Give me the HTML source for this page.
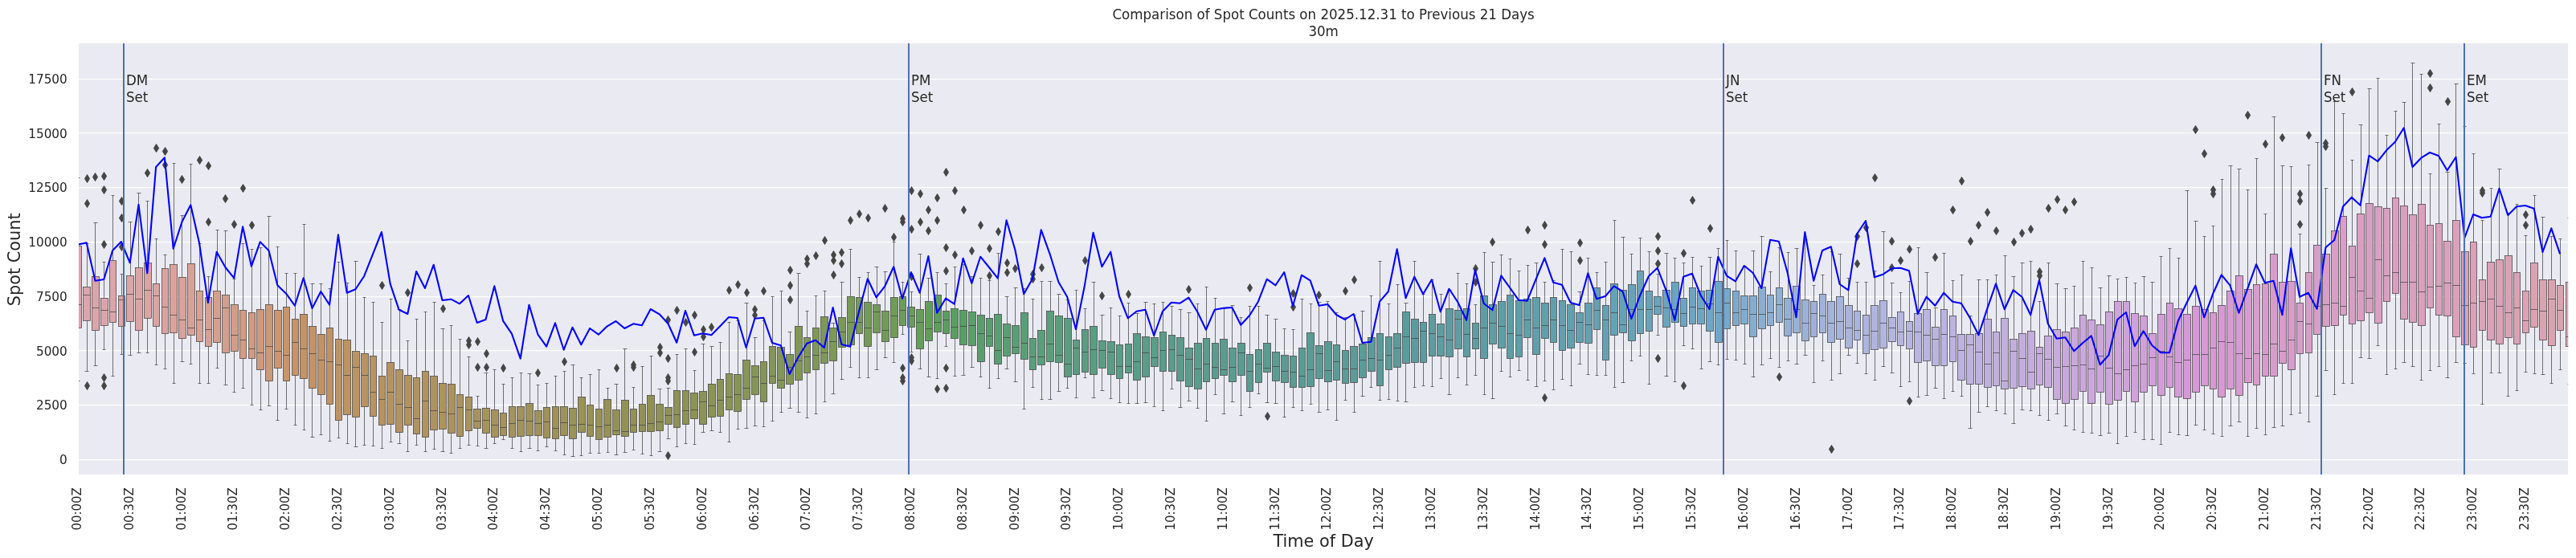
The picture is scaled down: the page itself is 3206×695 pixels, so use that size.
<!DOCTYPE html>
<html lang="en"><head><meta charset="utf-8"><title>Comparison of Spot Counts</title>
<style>html,body{margin:0;padding:0;background:#fff;overflow:hidden}svg{display:block;will-change:transform}text{font-family:"DejaVu Sans","Liberation Sans",sans-serif;fill:#262626}.t{font-size:15.28px}.x{font-size:14.95px}.b{stroke:#454545;stroke-width:0.75}.w{stroke:#454545;stroke-width:0.75;fill:none}.o{fill:#454545;stroke:#454545;stroke-width:1}</style></head><body>
<svg width="3206" height="695" viewBox="0 0 3206 695">
<rect width="3206" height="695" fill="#fff"/>
<rect x="98.0" y="54.0" width="3098.2" height="537.1" fill="#eaeaf2"/>
<defs><clipPath id="c"><rect x="98.0" y="54.0" width="3098.2" height="537.1"/></clipPath></defs>
<line x1="98.0" x2="3196.2" y1="572.5" y2="572.5" stroke="#fff" stroke-width="1.25"/>
<text class="t" transform="translate(83.8 578.2) scale(1 1.06)" text-anchor="end">0</text>
<line x1="98.0" x2="3196.2" y1="504.5" y2="504.5" stroke="#fff" stroke-width="1.25"/>
<text class="t" transform="translate(83.8 510.4) scale(1 1.06)" text-anchor="end">2500</text>
<line x1="98.0" x2="3196.2" y1="436.5" y2="436.5" stroke="#fff" stroke-width="1.25"/>
<text class="t" transform="translate(83.8 442.7) scale(1 1.06)" text-anchor="end">5000</text>
<line x1="98.0" x2="3196.2" y1="369.5" y2="369.5" stroke="#fff" stroke-width="1.25"/>
<text class="t" transform="translate(83.8 374.9) scale(1 1.06)" text-anchor="end">7500</text>
<line x1="98.0" x2="3196.2" y1="301.5" y2="301.5" stroke="#fff" stroke-width="1.25"/>
<text class="t" transform="translate(83.8 307.2) scale(1 1.06)" text-anchor="end">10000</text>
<line x1="98.0" x2="3196.2" y1="233.5" y2="233.5" stroke="#fff" stroke-width="1.25"/>
<text class="t" transform="translate(83.8 239.4) scale(1 1.06)" text-anchor="end">12500</text>
<line x1="98.0" x2="3196.2" y1="165.5" y2="165.5" stroke="#fff" stroke-width="1.25"/>
<text class="t" transform="translate(83.8 171.7) scale(1 1.06)" text-anchor="end">15000</text>
<line x1="98.0" x2="3196.2" y1="98.5" y2="98.5" stroke="#fff" stroke-width="1.25"/>
<text class="t" transform="translate(83.8 103.9) scale(1 1.06)" text-anchor="end">17500</text>
<g clip-path="url(#c)">
<rect class="b" x="93.5" y="306.5" width="8" height="102" fill="#dca4ad"/>
<rect class="b" x="103.5" y="357.5" width="9" height="42" fill="#dca4ac"/>
<rect class="b" x="114.5" y="344.5" width="9" height="67" fill="#dca4ab"/>
<rect class="b" x="125.5" y="371.5" width="9" height="34" fill="#dca4aa"/>
<rect class="b" x="136.5" y="324.5" width="8" height="77" fill="#dca5a8"/>
<rect class="b" x="147.5" y="368.5" width="8" height="38" fill="#dca5a7"/>
<rect class="b" x="157.5" y="343.5" width="9" height="57" fill="#dca5a6"/>
<rect class="b" x="168.5" y="333.5" width="9" height="78" fill="#dca5a5"/>
<rect class="b" x="179.5" y="327.5" width="9" height="69" fill="#dba4a3"/>
<rect class="b" x="190.5" y="353.5" width="8" height="53" fill="#dba4a1"/>
<rect class="b" x="201.5" y="334.5" width="8" height="81" fill="#daa39f"/>
<rect class="b" x="211.5" y="329.5" width="9" height="85" fill="#d9a39c"/>
<rect class="b" x="222.5" y="345.5" width="9" height="76" fill="#d9a29a"/>
<rect class="b" x="233.5" y="328.5" width="9" height="89" fill="#d8a197"/>
<rect class="b" x="244.5" y="362.5" width="8" height="63" fill="#d7a195"/>
<rect class="b" x="255.5" y="370.5" width="8" height="61" fill="#d6a092"/>
<rect class="b" x="265.5" y="362.5" width="9" height="64" fill="#d59f8f"/>
<rect class="b" x="276.5" y="367.5" width="9" height="72" fill="#d49e8c"/>
<rect class="b" x="287.5" y="379.5" width="9" height="58" fill="#d39d88"/>
<rect class="b" x="298.5" y="386.5" width="8" height="60" fill="#d29c85"/>
<rect class="b" x="309.5" y="389.5" width="8" height="57" fill="#d09b81"/>
<rect class="b" x="319.5" y="385.5" width="9" height="75" fill="#cf997c"/>
<rect class="b" x="330.5" y="379.5" width="9" height="95" fill="#cd9877"/>
<rect class="b" x="341.5" y="386.5" width="9" height="72" fill="#cb9671"/>
<rect class="b" x="352.5" y="382.5" width="8" height="92" fill="#c9946a"/>
<rect class="b" x="363.5" y="397.5" width="8" height="70" fill="#c79367"/>
<rect class="b" x="373.5" y="391.5" width="9" height="80" fill="#c59366"/>
<rect class="b" x="384.5" y="406.5" width="9" height="77" fill="#c39366"/>
<rect class="b" x="395.5" y="416.5" width="9" height="75" fill="#c19365"/>
<rect class="b" x="406.5" y="408.5" width="8" height="95" fill="#c09364"/>
<rect class="b" x="417.5" y="422.5" width="8" height="101" fill="#be9364"/>
<rect class="b" x="427.5" y="423.5" width="9" height="93" fill="#bd9363"/>
<rect class="b" x="438.5" y="437.5" width="9" height="82" fill="#bb9463"/>
<rect class="b" x="449.5" y="440.5" width="9" height="66" fill="#b99462"/>
<rect class="b" x="460.5" y="443.5" width="8" height="75" fill="#b89462"/>
<rect class="b" x="471.5" y="468.5" width="8" height="61" fill="#b79361"/>
<rect class="b" x="481.5" y="451.5" width="9" height="77" fill="#b59361"/>
<rect class="b" x="492.5" y="460.5" width="9" height="78" fill="#b49360"/>
<rect class="b" x="503.5" y="467.5" width="9" height="62" fill="#b29360"/>
<rect class="b" x="514.5" y="470.5" width="8" height="70" fill="#b1935f"/>
<rect class="b" x="525.5" y="462.5" width="8" height="82" fill="#b0935f"/>
<rect class="b" x="535.5" y="468.5" width="9" height="67" fill="#af935f"/>
<rect class="b" x="546.5" y="477.5" width="9" height="57" fill="#ad935e"/>
<rect class="b" x="557.5" y="478.5" width="9" height="61" fill="#ac935e"/>
<rect class="b" x="568.5" y="491.5" width="8" height="52" fill="#ab935d"/>
<rect class="b" x="579.5" y="494.5" width="8" height="42" fill="#aa935d"/>
<rect class="b" x="589.5" y="509.5" width="9" height="24" fill="#a8935c"/>
<rect class="b" x="600.5" y="508.5" width="9" height="31" fill="#a7935c"/>
<rect class="b" x="611.5" y="510.5" width="9" height="34" fill="#a6935c"/>
<rect class="b" x="622.5" y="514.5" width="8" height="28" fill="#a5935b"/>
<rect class="b" x="633.5" y="506.5" width="8" height="38" fill="#a4935b"/>
<rect class="b" x="643.5" y="506.5" width="9" height="37" fill="#a2925a"/>
<rect class="b" x="654.5" y="502.5" width="9" height="40" fill="#a1925a"/>
<rect class="b" x="665.5" y="511.5" width="9" height="31" fill="#a0925a"/>
<rect class="b" x="676.5" y="507.5" width="8" height="38" fill="#9f9259"/>
<rect class="b" x="687.5" y="506.5" width="8" height="40" fill="#9e9259"/>
<rect class="b" x="697.5" y="506.5" width="9" height="36" fill="#9d9258"/>
<rect class="b" x="708.5" y="508.5" width="9" height="38" fill="#9b9258"/>
<rect class="b" x="719.5" y="494.5" width="9" height="44" fill="#9a9258"/>
<rect class="b" x="730.5" y="504.5" width="8" height="39" fill="#999157"/>
<rect class="b" x="741.5" y="509.5" width="8" height="38" fill="#989157"/>
<rect class="b" x="751.5" y="497.5" width="9" height="47" fill="#979156"/>
<rect class="b" x="762.5" y="510.5" width="9" height="31" fill="#959156"/>
<rect class="b" x="773.5" y="498.5" width="9" height="45" fill="#949156"/>
<rect class="b" x="784.5" y="509.5" width="8" height="29" fill="#939155"/>
<rect class="b" x="795.5" y="503.5" width="8" height="34" fill="#929155"/>
<rect class="b" x="805.5" y="492.5" width="9" height="45" fill="#909054"/>
<rect class="b" x="816.5" y="503.5" width="9" height="33" fill="#909154"/>
<rect class="b" x="827.5" y="507.5" width="9" height="21" fill="#8f9155"/>
<rect class="b" x="838.5" y="486.5" width="8" height="46" fill="#8e9255"/>
<rect class="b" x="849.5" y="486.5" width="8" height="42" fill="#8d9255"/>
<rect class="b" x="859.5" y="489.5" width="9" height="32" fill="#8d9255"/>
<rect class="b" x="870.5" y="487.5" width="9" height="41" fill="#8c9355"/>
<rect class="b" x="881.5" y="478.5" width="9" height="41" fill="#8b9355"/>
<rect class="b" x="892.5" y="472.5" width="8" height="46" fill="#8a9355"/>
<rect class="b" x="903.5" y="465.5" width="8" height="45" fill="#899455"/>
<rect class="b" x="913.5" y="466.5" width="9" height="46" fill="#889456"/>
<rect class="b" x="924.5" y="448.5" width="9" height="49" fill="#879556"/>
<rect class="b" x="935.5" y="455.5" width="9" height="36" fill="#869556"/>
<rect class="b" x="946.5" y="450.5" width="8" height="50" fill="#859556"/>
<rect class="b" x="957.5" y="431.5" width="8" height="46" fill="#849656"/>
<rect class="b" x="967.5" y="432.5" width="9" height="51" fill="#839656"/>
<rect class="b" x="978.5" y="441.5" width="9" height="37" fill="#829756"/>
<rect class="b" x="989.5" y="406.5" width="9" height="67" fill="#819756"/>
<rect class="b" x="1000.5" y="420.5" width="8" height="44" fill="#809757"/>
<rect class="b" x="1011.5" y="408.5" width="8" height="52" fill="#7f9857"/>
<rect class="b" x="1021.5" y="394.5" width="9" height="58" fill="#7d9857"/>
<rect class="b" x="1032.5" y="408.5" width="9" height="41" fill="#7c9957"/>
<rect class="b" x="1043.5" y="395.5" width="9" height="37" fill="#7a9957"/>
<rect class="b" x="1054.5" y="369.5" width="9" height="60" fill="#799a57"/>
<rect class="b" x="1065.5" y="370.5" width="8" height="45" fill="#779a57"/>
<rect class="b" x="1075.5" y="376.5" width="9" height="55" fill="#759b58"/>
<rect class="b" x="1086.5" y="379.5" width="9" height="35" fill="#739b58"/>
<rect class="b" x="1097.5" y="387.5" width="9" height="38" fill="#719c58"/>
<rect class="b" x="1108.5" y="370.5" width="9" height="50" fill="#6f9c58"/>
<rect class="b" x="1119.5" y="369.5" width="8" height="36" fill="#6c9d58"/>
<rect class="b" x="1129.5" y="382.5" width="9" height="25" fill="#699d58"/>
<rect class="b" x="1140.5" y="385.5" width="9" height="49" fill="#659e59"/>
<rect class="b" x="1151.5" y="375.5" width="9" height="49" fill="#619e59"/>
<rect class="b" x="1162.5" y="367.5" width="9" height="46" fill="#5c9f59"/>
<rect class="b" x="1173.5" y="387.5" width="8" height="28" fill="#599f5c"/>
<rect class="b" x="1183.5" y="384.5" width="9" height="37" fill="#599f61"/>
<rect class="b" x="1194.5" y="386.5" width="9" height="43" fill="#599f65"/>
<rect class="b" x="1205.5" y="388.5" width="9" height="42" fill="#599f69"/>
<rect class="b" x="1216.5" y="392.5" width="9" height="58" fill="#599f6c"/>
<rect class="b" x="1227.5" y="396.5" width="8" height="35" fill="#599e6f"/>
<rect class="b" x="1237.5" y="391.5" width="9" height="62" fill="#5a9e71"/>
<rect class="b" x="1248.5" y="403.5" width="9" height="40" fill="#5a9e73"/>
<rect class="b" x="1259.5" y="405.5" width="9" height="35" fill="#5a9e75"/>
<rect class="b" x="1270.5" y="389.5" width="9" height="58" fill="#5a9e77"/>
<rect class="b" x="1281.5" y="421.5" width="8" height="39" fill="#5a9e79"/>
<rect class="b" x="1291.5" y="411.5" width="9" height="43" fill="#5a9e7b"/>
<rect class="b" x="1302.5" y="387.5" width="9" height="63" fill="#5a9e7c"/>
<rect class="b" x="1313.5" y="393.5" width="9" height="58" fill="#5a9d7d"/>
<rect class="b" x="1324.5" y="396.5" width="9" height="73" fill="#5a9d7f"/>
<rect class="b" x="1335.5" y="423.5" width="8" height="43" fill="#5a9d80"/>
<rect class="b" x="1346.5" y="410.5" width="8" height="53" fill="#5a9d81"/>
<rect class="b" x="1356.5" y="406.5" width="9" height="60" fill="#5a9d82"/>
<rect class="b" x="1367.5" y="424.5" width="9" height="34" fill="#5a9d83"/>
<rect class="b" x="1378.5" y="425.5" width="9" height="41" fill="#5a9d84"/>
<rect class="b" x="1389.5" y="429.5" width="8" height="42" fill="#5a9d85"/>
<rect class="b" x="1400.5" y="428.5" width="8" height="36" fill="#5a9d86"/>
<rect class="b" x="1410.5" y="415.5" width="9" height="58" fill="#5a9d87"/>
<rect class="b" x="1421.5" y="419.5" width="9" height="50" fill="#5a9d88"/>
<rect class="b" x="1432.5" y="420.5" width="9" height="36" fill="#5a9d89"/>
<rect class="b" x="1443.5" y="413.5" width="8" height="49" fill="#5a9c8a"/>
<rect class="b" x="1454.5" y="417.5" width="8" height="45" fill="#5a9c8b"/>
<rect class="b" x="1464.5" y="420.5" width="9" height="54" fill="#5a9c8b"/>
<rect class="b" x="1475.5" y="433.5" width="9" height="48" fill="#5b9c8c"/>
<rect class="b" x="1486.5" y="427.5" width="9" height="57" fill="#5b9c8d"/>
<rect class="b" x="1497.5" y="421.5" width="8" height="54" fill="#5b9c8e"/>
<rect class="b" x="1508.5" y="427.5" width="8" height="44" fill="#5b9c8e"/>
<rect class="b" x="1518.5" y="422.5" width="9" height="45" fill="#5b9c8f"/>
<rect class="b" x="1529.5" y="433.5" width="9" height="42" fill="#5b9c90"/>
<rect class="b" x="1540.5" y="427.5" width="9" height="40" fill="#5b9c90"/>
<rect class="b" x="1551.5" y="441.5" width="8" height="46" fill="#5b9c91"/>
<rect class="b" x="1562.5" y="435.5" width="8" height="41" fill="#5b9c92"/>
<rect class="b" x="1572.5" y="427.5" width="9" height="36" fill="#5b9c92"/>
<rect class="b" x="1583.5" y="438.5" width="9" height="36" fill="#5b9c93"/>
<rect class="b" x="1594.5" y="442.5" width="9" height="34" fill="#5b9b94"/>
<rect class="b" x="1605.5" y="443.5" width="8" height="39" fill="#5b9b94"/>
<rect class="b" x="1616.5" y="433.5" width="8" height="49" fill="#5b9b95"/>
<rect class="b" x="1626.5" y="414.5" width="9" height="67" fill="#5b9b95"/>
<rect class="b" x="1637.5" y="430.5" width="9" height="41" fill="#5b9b96"/>
<rect class="b" x="1648.5" y="425.5" width="9" height="50" fill="#5b9b96"/>
<rect class="b" x="1659.5" y="429.5" width="8" height="44" fill="#5b9b97"/>
<rect class="b" x="1670.5" y="436.5" width="8" height="41" fill="#5b9b98"/>
<rect class="b" x="1680.5" y="431.5" width="9" height="45" fill="#5b9b98"/>
<rect class="b" x="1691.5" y="428.5" width="9" height="42" fill="#5b9b99"/>
<rect class="b" x="1702.5" y="420.5" width="9" height="42" fill="#5b9b99"/>
<rect class="b" x="1713.5" y="415.5" width="8" height="65" fill="#5b9b9a"/>
<rect class="b" x="1724.5" y="419.5" width="8" height="41" fill="#5b9b9a"/>
<rect class="b" x="1734.5" y="415.5" width="9" height="42" fill="#5b9b9b"/>
<rect class="b" x="1745.5" y="388.5" width="9" height="64" fill="#5c9b9c"/>
<rect class="b" x="1756.5" y="397.5" width="9" height="54" fill="#5c9b9d"/>
<rect class="b" x="1767.5" y="401.5" width="8" height="50" fill="#5c9c9e"/>
<rect class="b" x="1778.5" y="391.5" width="8" height="52" fill="#5d9c9f"/>
<rect class="b" x="1788.5" y="403.5" width="9" height="40" fill="#5d9ca0"/>
<rect class="b" x="1799.5" y="384.5" width="9" height="60" fill="#5e9ca1"/>
<rect class="b" x="1810.5" y="386.5" width="9" height="48" fill="#5e9da2"/>
<rect class="b" x="1821.5" y="384.5" width="8" height="60" fill="#5e9da2"/>
<rect class="b" x="1832.5" y="402.5" width="8" height="32" fill="#5f9da3"/>
<rect class="b" x="1842.5" y="368.5" width="9" height="78" fill="#5f9da4"/>
<rect class="b" x="1853.5" y="379.5" width="9" height="49" fill="#5f9ea5"/>
<rect class="b" x="1864.5" y="375.5" width="9" height="58" fill="#609ea6"/>
<rect class="b" x="1875.5" y="367.5" width="8" height="79" fill="#609ea7"/>
<rect class="b" x="1886.5" y="374.5" width="8" height="70" fill="#619ea8"/>
<rect class="b" x="1896.5" y="372.5" width="9" height="48" fill="#619fa9"/>
<rect class="b" x="1907.5" y="370.5" width="9" height="71" fill="#619faa"/>
<rect class="b" x="1918.5" y="377.5" width="9" height="44" fill="#629fab"/>
<rect class="b" x="1929.5" y="370.5" width="8" height="56" fill="#629fac"/>
<rect class="b" x="1940.5" y="374.5" width="8" height="62" fill="#63a0ad"/>
<rect class="b" x="1950.5" y="379.5" width="9" height="54" fill="#63a0af"/>
<rect class="b" x="1961.5" y="389.5" width="9" height="37" fill="#64a0b0"/>
<rect class="b" x="1972.5" y="377.5" width="9" height="50" fill="#64a1b1"/>
<rect class="b" x="1983.5" y="358.5" width="8" height="52" fill="#65a1b2"/>
<rect class="b" x="1994.5" y="380.5" width="8" height="68" fill="#65a1b3"/>
<rect class="b" x="2004.5" y="353.5" width="9" height="64" fill="#66a2b5"/>
<rect class="b" x="2015.5" y="361.5" width="9" height="53" fill="#66a2b6"/>
<rect class="b" x="2026.5" y="354.5" width="9" height="70" fill="#67a2b7"/>
<rect class="b" x="2037.5" y="337.5" width="8" height="78" fill="#67a3b9"/>
<rect class="b" x="2048.5" y="362.5" width="8" height="50" fill="#68a3ba"/>
<rect class="b" x="2058.5" y="369.5" width="9" height="22" fill="#68a4bc"/>
<rect class="b" x="2069.5" y="361.5" width="9" height="46" fill="#69a4bd"/>
<rect class="b" x="2080.5" y="351.5" width="9" height="50" fill="#6aa4bf"/>
<rect class="b" x="2091.5" y="371.5" width="8" height="35" fill="#6ba5c1"/>
<rect class="b" x="2102.5" y="358.5" width="8" height="45" fill="#6ba5c3"/>
<rect class="b" x="2112.5" y="362.5" width="9" height="41" fill="#6ca6c5"/>
<rect class="b" x="2123.5" y="361.5" width="9" height="51" fill="#6da6c7"/>
<rect class="b" x="2134.5" y="350.5" width="9" height="76" fill="#6ea7c9"/>
<rect class="b" x="2145.5" y="359.5" width="8" height="50" fill="#75a9cb"/>
<rect class="b" x="2156.5" y="362.5" width="8" height="43" fill="#7baacd"/>
<rect class="b" x="2166.5" y="368.5" width="9" height="35" fill="#80accf"/>
<rect class="b" x="2177.5" y="368.5" width="9" height="51" fill="#85add0"/>
<rect class="b" x="2188.5" y="357.5" width="9" height="52" fill="#89aed2"/>
<rect class="b" x="2199.5" y="367.5" width="8" height="38" fill="#8dafd3"/>
<rect class="b" x="2210.5" y="358.5" width="8" height="43" fill="#91b0d4"/>
<rect class="b" x="2220.5" y="371.5" width="9" height="47" fill="#94b0d5"/>
<rect class="b" x="2231.5" y="356.5" width="9" height="58" fill="#98b1d7"/>
<rect class="b" x="2242.5" y="373.5" width="9" height="51" fill="#9bb2d8"/>
<rect class="b" x="2253.5" y="375.5" width="8" height="44" fill="#9eb2d9"/>
<rect class="b" x="2264.5" y="366.5" width="8" height="48" fill="#a0b3d9"/>
<rect class="b" x="2274.5" y="375.5" width="9" height="51" fill="#a3b3da"/>
<rect class="b" x="2285.5" y="369.5" width="9" height="53" fill="#a6b4db"/>
<rect class="b" x="2296.5" y="380.5" width="9" height="53" fill="#a8b4dc"/>
<rect class="b" x="2307.5" y="387.5" width="8" height="36" fill="#aab5dd"/>
<rect class="b" x="2318.5" y="392.5" width="8" height="48" fill="#adb5de"/>
<rect class="b" x="2328.5" y="380.5" width="9" height="55" fill="#afb5de"/>
<rect class="b" x="2339.5" y="374.5" width="9" height="59" fill="#b1b6df"/>
<rect class="b" x="2350.5" y="395.5" width="9" height="30" fill="#b3b6e0"/>
<rect class="b" x="2361.5" y="388.5" width="8" height="42" fill="#b5b6e0"/>
<rect class="b" x="2372.5" y="400.5" width="8" height="34" fill="#b7b6e1"/>
<rect class="b" x="2382.5" y="390.5" width="9" height="61" fill="#b8b5e0"/>
<rect class="b" x="2393.5" y="385.5" width="9" height="64" fill="#b9b5e0"/>
<rect class="b" x="2404.5" y="407.5" width="9" height="48" fill="#bab4e0"/>
<rect class="b" x="2415.5" y="385.5" width="8" height="70" fill="#bbb3e0"/>
<rect class="b" x="2426.5" y="393.5" width="8" height="57" fill="#bcb3e0"/>
<rect class="b" x="2436.5" y="416.5" width="9" height="57" fill="#bdb2df"/>
<rect class="b" x="2447.5" y="416.5" width="9" height="62" fill="#beb2df"/>
<rect class="b" x="2458.5" y="415.5" width="9" height="63" fill="#bfb1df"/>
<rect class="b" x="2469.5" y="397.5" width="9" height="85" fill="#c0b0df"/>
<rect class="b" x="2480.5" y="413.5" width="8" height="67" fill="#c1afde"/>
<rect class="b" x="2490.5" y="396.5" width="9" height="88" fill="#c2afde"/>
<rect class="b" x="2501.5" y="422.5" width="9" height="61" fill="#c3aede"/>
<rect class="b" x="2512.5" y="415.5" width="9" height="66" fill="#c4adde"/>
<rect class="b" x="2523.5" y="412.5" width="9" height="72" fill="#c5addd"/>
<rect class="b" x="2534.5" y="432.5" width="8" height="47" fill="#c6acdd"/>
<rect class="b" x="2544.5" y="418.5" width="9" height="64" fill="#c7abdd"/>
<rect class="b" x="2555.5" y="410.5" width="9" height="87" fill="#c8aadd"/>
<rect class="b" x="2566.5" y="413.5" width="9" height="89" fill="#c9a9dc"/>
<rect class="b" x="2577.5" y="408.5" width="9" height="89" fill="#caa8dc"/>
<rect class="b" x="2588.5" y="392.5" width="8" height="95" fill="#cba8dc"/>
<rect class="b" x="2598.5" y="398.5" width="9" height="104" fill="#cca7db"/>
<rect class="b" x="2609.5" y="404.5" width="9" height="84" fill="#cca6db"/>
<rect class="b" x="2620.5" y="388.5" width="9" height="115" fill="#cda5db"/>
<rect class="b" x="2631.5" y="375.5" width="9" height="123" fill="#cea4da"/>
<rect class="b" x="2642.5" y="375.5" width="8" height="112" fill="#cfa3da"/>
<rect class="b" x="2652.5" y="390.5" width="9" height="110" fill="#d0a1da"/>
<rect class="b" x="2663.5" y="393.5" width="9" height="95" fill="#d1a0d9"/>
<rect class="b" x="2674.5" y="415.5" width="9" height="65" fill="#d29fd9"/>
<rect class="b" x="2685.5" y="391.5" width="9" height="101" fill="#d39ed8"/>
<rect class="b" x="2696.5" y="377.5" width="8" height="105" fill="#d49cd8"/>
<rect class="b" x="2706.5" y="384.5" width="9" height="110" fill="#d59bd8"/>
<rect class="b" x="2717.5" y="391.5" width="9" height="105" fill="#d699d7"/>
<rect class="b" x="2728.5" y="381.5" width="9" height="107" fill="#d698d6"/>
<rect class="b" x="2739.5" y="385.5" width="9" height="95" fill="#d798d5"/>
<rect class="b" x="2750.5" y="389.5" width="8" height="95" fill="#d799d4"/>
<rect class="b" x="2760.5" y="380.5" width="9" height="114" fill="#d799d3"/>
<rect class="b" x="2771.5" y="362.5" width="9" height="122" fill="#d79ad2"/>
<rect class="b" x="2782.5" y="343.5" width="9" height="149" fill="#d79ad1"/>
<rect class="b" x="2793.5" y="360.5" width="9" height="116" fill="#d89bd0"/>
<rect class="b" x="2804.5" y="354.5" width="8" height="125" fill="#d89bce"/>
<rect class="b" x="2815.5" y="353.5" width="8" height="115" fill="#d89bcd"/>
<rect class="b" x="2825.5" y="316.5" width="9" height="152" fill="#d89ccc"/>
<rect class="b" x="2836.5" y="351.5" width="9" height="101" fill="#d89ccb"/>
<rect class="b" x="2847.5" y="350.5" width="9" height="110" fill="#d89ccb"/>
<rect class="b" x="2858.5" y="377.5" width="8" height="63" fill="#d99dca"/>
<rect class="b" x="2869.5" y="339.5" width="8" height="100" fill="#d99dc9"/>
<rect class="b" x="2879.5" y="305.5" width="9" height="111" fill="#d99dc8"/>
<rect class="b" x="2890.5" y="316.5" width="9" height="90" fill="#d99dc7"/>
<rect class="b" x="2901.5" y="287.5" width="9" height="118" fill="#d99ec6"/>
<rect class="b" x="2912.5" y="269.5" width="8" height="123" fill="#d99ec5"/>
<rect class="b" x="2923.5" y="306.5" width="8" height="97" fill="#d99ec4"/>
<rect class="b" x="2933.5" y="266.5" width="9" height="133" fill="#d99fc3"/>
<rect class="b" x="2944.5" y="253.5" width="9" height="136" fill="#d99fc2"/>
<rect class="b" x="2955.5" y="257.5" width="9" height="145" fill="#da9fc2"/>
<rect class="b" x="2966.5" y="259.5" width="8" height="116" fill="#da9fc1"/>
<rect class="b" x="2977.5" y="246.5" width="8" height="119" fill="#da9fc0"/>
<rect class="b" x="2987.5" y="256.5" width="9" height="141" fill="#daa0bf"/>
<rect class="b" x="2998.5" y="267.5" width="9" height="134" fill="#daa0be"/>
<rect class="b" x="3009.5" y="254.5" width="9" height="151" fill="#daa0bd"/>
<rect class="b" x="3020.5" y="280.5" width="8" height="103" fill="#daa0bd"/>
<rect class="b" x="3031.5" y="278.5" width="8" height="114" fill="#daa1bc"/>
<rect class="b" x="3041.5" y="300.5" width="9" height="93" fill="#daa1bb"/>
<rect class="b" x="3052.5" y="274.5" width="9" height="145" fill="#daa1ba"/>
<rect class="b" x="3063.5" y="313.5" width="9" height="116" fill="#daa1b9"/>
<rect class="b" x="3074.5" y="301.5" width="8" height="131" fill="#dba1b8"/>
<rect class="b" x="3085.5" y="348.5" width="8" height="63" fill="#dba2b8"/>
<rect class="b" x="3095.5" y="326.5" width="9" height="97" fill="#dba2b7"/>
<rect class="b" x="3106.5" y="323.5" width="9" height="105" fill="#dba2b6"/>
<rect class="b" x="3117.5" y="318.5" width="9" height="102" fill="#dba2b5"/>
<rect class="b" x="3128.5" y="339.5" width="8" height="89" fill="#dba2b4"/>
<rect class="b" x="3139.5" y="362.5" width="8" height="52" fill="#dba3b3"/>
<rect class="b" x="3149.5" y="327.5" width="9" height="80" fill="#dba3b2"/>
<rect class="b" x="3160.5" y="348.5" width="9" height="75" fill="#dba3b1"/>
<rect class="b" x="3171.5" y="348.5" width="9" height="82" fill="#dba3b0"/>
<rect class="b" x="3182.5" y="355.5" width="8" height="56" fill="#dba3af"/>
<rect class="b" x="3193.5" y="351.5" width="8" height="80" fill="#dca4ae"/>
<path class="w" d="M97.5 306.5V221.5M97.5 408.5V474.5M95.5 221.5H99.5M95.5 474.5H99.5M93.5 379.5H101.5"/>
<path class="w" d="M108.5 357.5V303.5M108.5 399.5V462.5M105.5 303.5H110.5M105.5 462.5H110.5M103.5 367.5H112.5"/>
<path class="w" d="M118.5 344.5V277.5M118.5 411.5V455.5M116.5 277.5H121.5M116.5 455.5H121.5M114.5 383.5H123.5"/>
<path class="w" d="M129.5 371.5V326.5M129.5 405.5V435.5M127.5 326.5H131.5M127.5 435.5H131.5M125.5 386.5H134.5"/>
<path class="w" d="M140.5 324.5V243.5M140.5 401.5V468.5M138.5 243.5H142.5M138.5 468.5H142.5M136.5 388.5H144.5"/>
<path class="w" d="M151.5 368.5V341.5M151.5 406.5V441.5M149.5 341.5H153.5M149.5 441.5H153.5M147.5 373.5H155.5"/>
<path class="w" d="M162.5 343.5V276.5M162.5 400.5V442.5M159.5 276.5H164.5M159.5 442.5H164.5M157.5 366.5H166.5"/>
<path class="w" d="M172.5 333.5V240.5M172.5 411.5V439.5M170.5 240.5H175.5M170.5 439.5H175.5M168.5 372.5H177.5"/>
<path class="w" d="M183.5 327.5V250.5M183.5 396.5V439.5M181.5 250.5H185.5M181.5 439.5H185.5M179.5 361.5H188.5"/>
<path class="w" d="M194.5 353.5V297.5M194.5 406.5V454.5M192.5 297.5H196.5M192.5 454.5H196.5M190.5 368.5H198.5"/>
<path class="w" d="M205.5 334.5V317.5M205.5 415.5V459.5M203.5 317.5H207.5M203.5 459.5H207.5M201.5 382.5H209.5"/>
<path class="w" d="M216.5 329.5V203.5M216.5 414.5V477.5M214.5 203.5H218.5M214.5 477.5H218.5M211.5 392.5H220.5"/>
<path class="w" d="M226.5 345.5V268.5M226.5 421.5V450.5M224.5 268.5H229.5M224.5 450.5H229.5M222.5 398.5H231.5"/>
<path class="w" d="M237.5 328.5V204.5M237.5 417.5V453.5M235.5 204.5H239.5M235.5 453.5H239.5M233.5 408.5H242.5"/>
<path class="w" d="M248.5 362.5V303.5M248.5 425.5V477.5M246.5 303.5H250.5M246.5 477.5H250.5M244.5 398.5H252.5"/>
<path class="w" d="M259.5 370.5V344.5M259.5 431.5V477.5M257.5 344.5H261.5M257.5 477.5H261.5M255.5 410.5H263.5"/>
<path class="w" d="M270.5 362.5V286.5M270.5 426.5V458.5M268.5 286.5H272.5M268.5 458.5H272.5M265.5 396.5H274.5"/>
<path class="w" d="M280.5 367.5V287.5M280.5 439.5V479.5M278.5 287.5H283.5M278.5 479.5H283.5M276.5 383.5H285.5"/>
<path class="w" d="M291.5 379.5V347.5M291.5 437.5V488.5M289.5 347.5H293.5M289.5 488.5H293.5M287.5 417.5H296.5"/>
<path class="w" d="M302.5 386.5V303.5M302.5 446.5V483.5M300.5 303.5H304.5M300.5 483.5H304.5M298.5 423.5H306.5"/>
<path class="w" d="M313.5 389.5V310.5M313.5 446.5V504.5M311.5 310.5H315.5M311.5 504.5H315.5M309.5 434.5H317.5"/>
<path class="w" d="M324.5 385.5V308.5M324.5 460.5V510.5M322.5 308.5H326.5M322.5 510.5H326.5M319.5 439.5H328.5"/>
<path class="w" d="M334.5 379.5V269.5M334.5 474.5V505.5M332.5 269.5H337.5M332.5 505.5H337.5M330.5 431.5H339.5"/>
<path class="w" d="M345.5 386.5V307.5M345.5 458.5V523.5M343.5 307.5H347.5M343.5 523.5H347.5M341.5 437.5H350.5"/>
<path class="w" d="M356.5 382.5V340.5M356.5 474.5V509.5M354.5 340.5H358.5M354.5 509.5H358.5M352.5 442.5H360.5"/>
<path class="w" d="M367.5 397.5V340.5M367.5 467.5V529.5M365.5 340.5H369.5M365.5 529.5H369.5M363.5 426.5H371.5"/>
<path class="w" d="M378.5 391.5V279.5M378.5 471.5V535.5M376.5 279.5H380.5M376.5 535.5H380.5M373.5 434.5H382.5"/>
<path class="w" d="M388.5 406.5V353.5M388.5 483.5V544.5M386.5 353.5H391.5M386.5 544.5H391.5M384.5 440.5H393.5"/>
<path class="w" d="M399.5 416.5V353.5M399.5 491.5V541.5M397.5 353.5H401.5M397.5 541.5H401.5M395.5 448.5H404.5"/>
<path class="w" d="M410.5 408.5V359.5M410.5 503.5V549.5M408.5 359.5H412.5M408.5 549.5H412.5M406.5 450.5H414.5"/>
<path class="w" d="M421.5 422.5V326.5M421.5 523.5V545.5M419.5 326.5H423.5M419.5 545.5H423.5M417.5 454.5H425.5"/>
<path class="w" d="M432.5 423.5V352.5M432.5 516.5V552.5M430.5 352.5H434.5M430.5 552.5H434.5M427.5 467.5H436.5"/>
<path class="w" d="M442.5 437.5V325.5M442.5 519.5V556.5M440.5 325.5H445.5M440.5 556.5H445.5M438.5 457.5H447.5"/>
<path class="w" d="M453.5 440.5V370.5M453.5 506.5V554.5M451.5 370.5H455.5M451.5 554.5H455.5M449.5 467.5H458.5"/>
<path class="w" d="M464.5 443.5V376.5M464.5 518.5V555.5M462.5 376.5H466.5M462.5 555.5H466.5M460.5 488.5H468.5"/>
<path class="w" d="M475.5 468.5V401.5M475.5 529.5V558.5M473.5 401.5H477.5M473.5 558.5H477.5M471.5 497.5H479.5"/>
<path class="w" d="M486.5 451.5V372.5M486.5 528.5V550.5M484.5 372.5H488.5M484.5 550.5H488.5M481.5 488.5H490.5"/>
<path class="w" d="M497.5 460.5V385.5M497.5 538.5V552.5M494.5 385.5H499.5M494.5 552.5H499.5M492.5 503.5H501.5"/>
<path class="w" d="M507.5 467.5V424.5M507.5 529.5V562.5M505.5 424.5H509.5M505.5 562.5H509.5M503.5 507.5H512.5"/>
<path class="w" d="M518.5 470.5V397.5M518.5 540.5V554.5M516.5 397.5H520.5M516.5 554.5H520.5M514.5 521.5H522.5"/>
<path class="w" d="M529.5 462.5V388.5M529.5 544.5V562.5M527.5 388.5H531.5M527.5 562.5H531.5M525.5 499.5H533.5"/>
<path class="w" d="M540.5 468.5V376.5M540.5 535.5V559.5M538.5 376.5H542.5M538.5 559.5H542.5M535.5 511.5H544.5"/>
<path class="w" d="M551.5 477.5V409.5M551.5 534.5V562.5M548.5 409.5H553.5M548.5 562.5H553.5M546.5 513.5H555.5"/>
<path class="w" d="M561.5 478.5V405.5M561.5 539.5V564.5M559.5 405.5H563.5M559.5 564.5H563.5M557.5 515.5H566.5"/>
<path class="w" d="M572.5 491.5V422.5M572.5 543.5V558.5M570.5 422.5H574.5M570.5 558.5H574.5M568.5 507.5H576.5"/>
<path class="w" d="M583.5 494.5V444.5M583.5 536.5V554.5M581.5 444.5H585.5M581.5 554.5H585.5M579.5 510.5H587.5"/>
<path class="w" d="M594.5 509.5V493.5M594.5 533.5V555.5M592.5 493.5H596.5M592.5 555.5H596.5M589.5 524.5H598.5"/>
<path class="w" d="M605.5 508.5V464.5M605.5 539.5V558.5M602.5 464.5H607.5M602.5 558.5H607.5M600.5 523.5H609.5"/>
<path class="w" d="M615.5 510.5V460.5M615.5 544.5V552.5M613.5 460.5H617.5M613.5 552.5H617.5M611.5 529.5H620.5"/>
<path class="w" d="M626.5 514.5V478.5M626.5 542.5V547.5M624.5 478.5H628.5M624.5 547.5H628.5M622.5 532.5H630.5"/>
<path class="w" d="M637.5 506.5V470.5M637.5 544.5V558.5M635.5 470.5H639.5M635.5 558.5H639.5M633.5 527.5H641.5"/>
<path class="w" d="M648.5 506.5V464.5M648.5 543.5V562.5M646.5 464.5H650.5M646.5 562.5H650.5M643.5 523.5H652.5"/>
<path class="w" d="M659.5 502.5V465.5M659.5 542.5V558.5M656.5 465.5H661.5M656.5 558.5H661.5M654.5 524.5H663.5"/>
<path class="w" d="M669.5 511.5V479.5M669.5 542.5V561.5M667.5 479.5H671.5M667.5 561.5H671.5M665.5 527.5H674.5"/>
<path class="w" d="M680.5 507.5V477.5M680.5 545.5V556.5M678.5 477.5H682.5M678.5 556.5H682.5M676.5 525.5H684.5"/>
<path class="w" d="M691.5 506.5V468.5M691.5 546.5V561.5M689.5 468.5H693.5M689.5 561.5H693.5M687.5 533.5H695.5"/>
<path class="w" d="M702.5 506.5V462.5M702.5 542.5V566.5M700.5 462.5H704.5M700.5 566.5H704.5M697.5 526.5H706.5"/>
<path class="w" d="M713.5 508.5V454.5M713.5 546.5V568.5M710.5 454.5H715.5M710.5 568.5H715.5M708.5 529.5H717.5"/>
<path class="w" d="M723.5 494.5V470.5M723.5 538.5V567.5M721.5 470.5H725.5M721.5 567.5H725.5M719.5 528.5H728.5"/>
<path class="w" d="M734.5 504.5V466.5M734.5 543.5V564.5M732.5 466.5H736.5M732.5 564.5H736.5M730.5 529.5H738.5"/>
<path class="w" d="M745.5 509.5V460.5M745.5 547.5V564.5M743.5 460.5H747.5M743.5 564.5H747.5M741.5 531.5H749.5"/>
<path class="w" d="M756.5 497.5V483.5M756.5 544.5V563.5M754.5 483.5H758.5M754.5 563.5H758.5M751.5 529.5H760.5"/>
<path class="w" d="M767.5 510.5V478.5M767.5 541.5V566.5M764.5 478.5H769.5M764.5 566.5H769.5M762.5 536.5H771.5"/>
<path class="w" d="M777.5 498.5V434.5M777.5 543.5V563.5M775.5 434.5H780.5M775.5 563.5H780.5M773.5 537.5H782.5"/>
<path class="w" d="M788.5 509.5V482.5M788.5 538.5V560.5M786.5 482.5H790.5M786.5 560.5H790.5M784.5 529.5H792.5"/>
<path class="w" d="M799.5 503.5V456.5M799.5 537.5V565.5M797.5 456.5H801.5M797.5 565.5H801.5M795.5 529.5H803.5"/>
<path class="w" d="M810.5 492.5V443.5M810.5 537.5V567.5M808.5 443.5H812.5M808.5 567.5H812.5M805.5 527.5H814.5"/>
<path class="w" d="M821.5 503.5V484.5M821.5 536.5V562.5M818.5 484.5H823.5M818.5 562.5H823.5M816.5 525.5H825.5"/>
<path class="w" d="M831.5 507.5V483.5M831.5 528.5V546.5M829.5 483.5H834.5M829.5 546.5H834.5M827.5 517.5H836.5"/>
<path class="w" d="M842.5 486.5V441.5M842.5 532.5V556.5M840.5 441.5H844.5M840.5 556.5H844.5M838.5 516.5H846.5"/>
<path class="w" d="M853.5 486.5V434.5M853.5 528.5V552.5M851.5 434.5H855.5M851.5 552.5H855.5M849.5 511.5H857.5"/>
<path class="w" d="M864.5 489.5V461.5M864.5 521.5V553.5M862.5 461.5H866.5M862.5 553.5H866.5M859.5 510.5H868.5"/>
<path class="w" d="M875.5 487.5V428.5M875.5 528.5V538.5M872.5 428.5H877.5M872.5 538.5H877.5M870.5 500.5H879.5"/>
<path class="w" d="M885.5 478.5V431.5M885.5 519.5V536.5M883.5 431.5H888.5M883.5 536.5H888.5M881.5 505.5H890.5"/>
<path class="w" d="M896.5 472.5V426.5M896.5 518.5V538.5M894.5 426.5H898.5M894.5 538.5H898.5M892.5 498.5H900.5"/>
<path class="w" d="M907.5 465.5V401.5M907.5 510.5V550.5M905.5 401.5H909.5M905.5 550.5H909.5M903.5 494.5H911.5"/>
<path class="w" d="M918.5 466.5V399.5M918.5 512.5V534.5M916.5 399.5H920.5M916.5 534.5H920.5M913.5 491.5H922.5"/>
<path class="w" d="M929.5 448.5V377.5M929.5 497.5V533.5M926.5 377.5H931.5M926.5 533.5H931.5M924.5 483.5H933.5"/>
<path class="w" d="M939.5 455.5V420.5M939.5 491.5V530.5M937.5 420.5H942.5M937.5 530.5H942.5M935.5 469.5H944.5"/>
<path class="w" d="M950.5 450.5V399.5M950.5 500.5V531.5M948.5 399.5H952.5M948.5 531.5H952.5M946.5 477.5H954.5"/>
<path class="w" d="M961.5 431.5V369.5M961.5 477.5V524.5M959.5 369.5H963.5M959.5 524.5H963.5M957.5 468.5H965.5"/>
<path class="w" d="M972.5 432.5V362.5M972.5 483.5V513.5M970.5 362.5H974.5M970.5 513.5H974.5M967.5 473.5H976.5"/>
<path class="w" d="M983.5 441.5V413.5M983.5 478.5V508.5M980.5 413.5H985.5M980.5 508.5H985.5M978.5 457.5H987.5"/>
<path class="w" d="M993.5 406.5V340.5M993.5 473.5V513.5M991.5 340.5H996.5M991.5 513.5H996.5M989.5 449.5H998.5"/>
<path class="w" d="M1004.5 420.5V387.5M1004.5 464.5V520.5M1002.5 387.5H1006.5M1002.5 520.5H1006.5M1000.5 444.5H1008.5"/>
<path class="w" d="M1015.5 408.5V368.5M1015.5 460.5V515.5M1013.5 368.5H1017.5M1013.5 515.5H1017.5M1011.5 442.5H1019.5"/>
<path class="w" d="M1026.5 394.5V362.5M1026.5 452.5V500.5M1024.5 362.5H1028.5M1024.5 500.5H1028.5M1021.5 439.5H1030.5"/>
<path class="w" d="M1037.5 408.5V402.5M1037.5 449.5V490.5M1034.5 402.5H1039.5M1034.5 490.5H1039.5M1032.5 425.5H1041.5"/>
<path class="w" d="M1047.5 395.5V351.5M1047.5 432.5V472.5M1045.5 351.5H1050.5M1045.5 472.5H1050.5M1043.5 413.5H1052.5"/>
<path class="w" d="M1058.5 369.5V310.5M1058.5 429.5V457.5M1056.5 310.5H1060.5M1056.5 457.5H1060.5M1054.5 401.5H1063.5"/>
<path class="w" d="M1069.5 370.5V345.5M1069.5 415.5V470.5M1067.5 345.5H1071.5M1067.5 470.5H1071.5M1065.5 401.5H1073.5"/>
<path class="w" d="M1080.5 376.5V339.5M1080.5 431.5V470.5M1078.5 339.5H1082.5M1078.5 470.5H1082.5M1075.5 408.5H1084.5"/>
<path class="w" d="M1091.5 379.5V332.5M1091.5 414.5V460.5M1088.5 332.5H1093.5M1088.5 460.5H1093.5M1086.5 388.5H1095.5"/>
<path class="w" d="M1101.5 387.5V338.5M1101.5 425.5V445.5M1099.5 338.5H1104.5M1099.5 445.5H1104.5M1097.5 411.5H1106.5"/>
<path class="w" d="M1112.5 370.5V301.5M1112.5 420.5V451.5M1110.5 301.5H1114.5M1110.5 451.5H1114.5M1108.5 393.5H1117.5"/>
<path class="w" d="M1123.5 369.5V351.5M1123.5 405.5V416.5M1121.5 351.5H1125.5M1121.5 416.5H1125.5M1119.5 386.5H1127.5"/>
<path class="w" d="M1134.5 382.5V363.5M1134.5 407.5V438.5M1132.5 363.5H1136.5M1132.5 438.5H1136.5M1129.5 393.5H1138.5"/>
<path class="w" d="M1145.5 385.5V316.5M1145.5 434.5V459.5M1142.5 316.5H1147.5M1142.5 459.5H1147.5M1140.5 401.5H1149.5"/>
<path class="w" d="M1155.5 375.5V346.5M1155.5 424.5V469.5M1153.5 346.5H1158.5M1153.5 469.5H1158.5M1151.5 409.5H1160.5"/>
<path class="w" d="M1166.5 367.5V339.5M1166.5 413.5V471.5M1164.5 339.5H1168.5M1164.5 471.5H1168.5M1162.5 401.5H1171.5"/>
<path class="w" d="M1177.5 387.5V353.5M1177.5 415.5V431.5M1175.5 353.5H1179.5M1175.5 431.5H1179.5M1173.5 398.5H1181.5"/>
<path class="w" d="M1188.5 384.5V332.5M1188.5 421.5V468.5M1186.5 332.5H1190.5M1186.5 468.5H1190.5M1183.5 407.5H1192.5"/>
<path class="w" d="M1199.5 386.5V329.5M1199.5 429.5V467.5M1196.5 329.5H1201.5M1196.5 467.5H1201.5M1194.5 406.5H1203.5"/>
<path class="w" d="M1209.5 388.5V344.5M1209.5 430.5V457.5M1207.5 344.5H1212.5M1207.5 457.5H1212.5M1205.5 405.5H1214.5"/>
<path class="w" d="M1220.5 392.5V346.5M1220.5 450.5V469.5M1218.5 346.5H1222.5M1218.5 469.5H1222.5M1216.5 415.5H1225.5"/>
<path class="w" d="M1231.5 396.5V349.5M1231.5 431.5V483.5M1229.5 349.5H1233.5M1229.5 483.5H1233.5M1227.5 418.5H1235.5"/>
<path class="w" d="M1242.5 391.5V315.5M1242.5 453.5V471.5M1240.5 315.5H1244.5M1240.5 471.5H1244.5M1237.5 436.5H1246.5"/>
<path class="w" d="M1253.5 403.5V369.5M1253.5 443.5V459.5M1250.5 369.5H1255.5M1250.5 459.5H1255.5M1248.5 420.5H1257.5"/>
<path class="w" d="M1263.5 405.5V358.5M1263.5 440.5V475.5M1261.5 358.5H1266.5M1261.5 475.5H1266.5M1259.5 432.5H1268.5"/>
<path class="w" d="M1274.5 389.5V359.5M1274.5 447.5V509.5M1272.5 359.5H1276.5M1272.5 509.5H1276.5M1270.5 427.5H1279.5"/>
<path class="w" d="M1285.5 421.5V372.5M1285.5 460.5V482.5M1283.5 372.5H1287.5M1283.5 482.5H1287.5M1281.5 444.5H1289.5"/>
<path class="w" d="M1296.5 411.5V350.5M1296.5 454.5V497.5M1294.5 350.5H1298.5M1294.5 497.5H1298.5M1291.5 444.5H1300.5"/>
<path class="w" d="M1307.5 387.5V350.5M1307.5 450.5V497.5M1304.5 350.5H1309.5M1304.5 497.5H1309.5M1302.5 428.5H1311.5"/>
<path class="w" d="M1317.5 393.5V366.5M1317.5 451.5V487.5M1315.5 366.5H1320.5M1315.5 487.5H1320.5M1313.5 442.5H1322.5"/>
<path class="w" d="M1328.5 396.5V373.5M1328.5 469.5V483.5M1326.5 373.5H1330.5M1326.5 483.5H1330.5M1324.5 453.5H1333.5"/>
<path class="w" d="M1339.5 423.5V361.5M1339.5 466.5V495.5M1337.5 361.5H1341.5M1337.5 495.5H1341.5M1335.5 433.5H1343.5"/>
<path class="w" d="M1350.5 410.5V384.5M1350.5 463.5V470.5M1348.5 384.5H1352.5M1348.5 470.5H1352.5M1346.5 438.5H1354.5"/>
<path class="w" d="M1361.5 406.5V351.5M1361.5 466.5V495.5M1358.5 351.5H1363.5M1358.5 495.5H1363.5M1356.5 435.5H1365.5"/>
<path class="w" d="M1371.5 424.5V392.5M1371.5 458.5V486.5M1369.5 392.5H1374.5M1369.5 486.5H1374.5M1367.5 436.5H1376.5"/>
<path class="w" d="M1382.5 425.5V383.5M1382.5 466.5V496.5M1380.5 383.5H1384.5M1380.5 496.5H1384.5M1378.5 438.5H1387.5"/>
<path class="w" d="M1393.5 429.5V393.5M1393.5 471.5V501.5M1391.5 393.5H1395.5M1391.5 501.5H1395.5M1389.5 456.5H1397.5"/>
<path class="w" d="M1404.5 428.5V377.5M1404.5 464.5V502.5M1402.5 377.5H1406.5M1402.5 502.5H1406.5M1400.5 456.5H1408.5"/>
<path class="w" d="M1415.5 415.5V390.5M1415.5 473.5V502.5M1412.5 390.5H1417.5M1412.5 502.5H1417.5M1410.5 450.5H1419.5"/>
<path class="w" d="M1425.5 419.5V376.5M1425.5 469.5V501.5M1423.5 376.5H1428.5M1423.5 501.5H1428.5M1421.5 439.5H1430.5"/>
<path class="w" d="M1436.5 420.5V378.5M1436.5 456.5V506.5M1434.5 378.5H1438.5M1434.5 506.5H1438.5M1432.5 445.5H1441.5"/>
<path class="w" d="M1447.5 413.5V376.5M1447.5 462.5V511.5M1445.5 376.5H1449.5M1445.5 511.5H1449.5M1443.5 436.5H1451.5"/>
<path class="w" d="M1458.5 417.5V381.5M1458.5 462.5V484.5M1456.5 381.5H1460.5M1456.5 484.5H1460.5M1454.5 435.5H1462.5"/>
<path class="w" d="M1469.5 420.5V385.5M1469.5 474.5V507.5M1466.5 385.5H1471.5M1466.5 507.5H1471.5M1464.5 442.5H1473.5"/>
<path class="w" d="M1479.5 433.5V389.5M1479.5 481.5V499.5M1477.5 389.5H1482.5M1477.5 499.5H1482.5M1475.5 447.5H1484.5"/>
<path class="w" d="M1490.5 427.5V378.5M1490.5 484.5V508.5M1488.5 378.5H1492.5M1488.5 508.5H1492.5M1486.5 459.5H1495.5"/>
<path class="w" d="M1501.5 421.5V357.5M1501.5 475.5V524.5M1499.5 357.5H1503.5M1499.5 524.5H1503.5M1497.5 453.5H1505.5"/>
<path class="w" d="M1512.5 427.5V371.5M1512.5 471.5V491.5M1510.5 371.5H1514.5M1510.5 491.5H1514.5M1508.5 457.5H1516.5"/>
<path class="w" d="M1523.5 422.5V384.5M1523.5 467.5V515.5M1520.5 384.5H1525.5M1520.5 515.5H1525.5M1518.5 460.5H1527.5"/>
<path class="w" d="M1533.5 433.5V380.5M1533.5 475.5V500.5M1531.5 380.5H1536.5M1531.5 500.5H1536.5M1529.5 457.5H1538.5"/>
<path class="w" d="M1544.5 427.5V395.5M1544.5 467.5V517.5M1542.5 395.5H1546.5M1542.5 517.5H1546.5M1540.5 439.5H1549.5"/>
<path class="w" d="M1555.5 441.5V381.5M1555.5 487.5V507.5M1553.5 381.5H1557.5M1553.5 507.5H1557.5M1551.5 462.5H1559.5"/>
<path class="w" d="M1566.5 435.5V381.5M1566.5 476.5V490.5M1564.5 381.5H1568.5M1564.5 490.5H1568.5M1562.5 453.5H1570.5"/>
<path class="w" d="M1577.5 427.5V392.5M1577.5 463.5V501.5M1574.5 392.5H1579.5M1574.5 501.5H1579.5M1572.5 458.5H1581.5"/>
<path class="w" d="M1587.5 438.5V397.5M1587.5 474.5V502.5M1585.5 397.5H1590.5M1585.5 502.5H1590.5M1583.5 456.5H1592.5"/>
<path class="w" d="M1598.5 442.5V409.5M1598.5 476.5V519.5M1596.5 409.5H1600.5M1596.5 519.5H1600.5M1594.5 462.5H1603.5"/>
<path class="w" d="M1609.5 443.5V410.5M1609.5 482.5V507.5M1607.5 410.5H1611.5M1607.5 507.5H1611.5M1605.5 463.5H1613.5"/>
<path class="w" d="M1620.5 433.5V372.5M1620.5 482.5V511.5M1618.5 372.5H1622.5M1618.5 511.5H1622.5M1616.5 468.5H1624.5"/>
<path class="w" d="M1631.5 414.5V378.5M1631.5 481.5V503.5M1629.5 378.5H1633.5M1629.5 503.5H1633.5M1626.5 460.5H1635.5"/>
<path class="w" d="M1641.5 430.5V376.5M1641.5 471.5V513.5M1639.5 376.5H1644.5M1639.5 513.5H1644.5M1637.5 440.5H1646.5"/>
<path class="w" d="M1652.5 425.5V375.5M1652.5 475.5V510.5M1650.5 375.5H1654.5M1650.5 510.5H1654.5M1648.5 461.5H1657.5"/>
<path class="w" d="M1663.5 429.5V389.5M1663.5 473.5V523.5M1661.5 389.5H1665.5M1661.5 523.5H1665.5M1659.5 450.5H1667.5"/>
<path class="w" d="M1674.5 436.5V395.5M1674.5 477.5V498.5M1672.5 395.5H1676.5M1672.5 498.5H1676.5M1670.5 459.5H1678.5"/>
<path class="w" d="M1685.5 431.5V392.5M1685.5 476.5V513.5M1683.5 392.5H1687.5M1683.5 513.5H1687.5M1680.5 459.5H1689.5"/>
<path class="w" d="M1695.5 428.5V387.5M1695.5 470.5V493.5M1693.5 387.5H1698.5M1693.5 493.5H1698.5M1691.5 448.5H1700.5"/>
<path class="w" d="M1706.5 420.5V368.5M1706.5 462.5V482.5M1704.5 368.5H1708.5M1704.5 482.5H1708.5M1702.5 446.5H1711.5"/>
<path class="w" d="M1717.5 415.5V325.5M1717.5 480.5V498.5M1715.5 325.5H1719.5M1715.5 498.5H1719.5M1713.5 448.5H1721.5"/>
<path class="w" d="M1728.5 419.5V378.5M1728.5 460.5V497.5M1726.5 378.5H1730.5M1726.5 497.5H1730.5M1724.5 442.5H1732.5"/>
<path class="w" d="M1739.5 415.5V354.5M1739.5 457.5V499.5M1737.5 354.5H1741.5M1737.5 499.5H1741.5M1734.5 433.5H1743.5"/>
<path class="w" d="M1749.5 388.5V377.5M1749.5 452.5V500.5M1747.5 377.5H1752.5M1747.5 500.5H1752.5M1745.5 419.5H1754.5"/>
<path class="w" d="M1760.5 397.5V325.5M1760.5 451.5V482.5M1758.5 325.5H1762.5M1758.5 482.5H1762.5M1756.5 421.5H1765.5"/>
<path class="w" d="M1771.5 401.5V366.5M1771.5 451.5V480.5M1769.5 366.5H1773.5M1769.5 480.5H1773.5M1767.5 412.5H1775.5"/>
<path class="w" d="M1782.5 391.5V348.5M1782.5 443.5V481.5M1780.5 348.5H1784.5M1780.5 481.5H1784.5M1778.5 415.5H1786.5"/>
<path class="w" d="M1793.5 403.5V366.5M1793.5 443.5V471.5M1791.5 366.5H1795.5M1791.5 471.5H1795.5M1788.5 419.5H1797.5"/>
<path class="w" d="M1803.5 384.5V361.5M1803.5 444.5V491.5M1801.5 361.5H1806.5M1801.5 491.5H1806.5M1799.5 423.5H1808.5"/>
<path class="w" d="M1814.5 386.5V340.5M1814.5 434.5V470.5M1812.5 340.5H1816.5M1812.5 470.5H1816.5M1810.5 397.5H1819.5"/>
<path class="w" d="M1825.5 384.5V353.5M1825.5 444.5V479.5M1823.5 353.5H1827.5M1823.5 479.5H1827.5M1821.5 416.5H1829.5"/>
<path class="w" d="M1836.5 402.5V379.5M1836.5 434.5V467.5M1834.5 379.5H1838.5M1834.5 467.5H1838.5M1832.5 421.5H1840.5"/>
<path class="w" d="M1847.5 368.5V314.5M1847.5 446.5V491.5M1845.5 314.5H1849.5M1845.5 491.5H1849.5M1842.5 408.5H1851.5"/>
<path class="w" d="M1857.5 379.5V326.5M1857.5 428.5V496.5M1855.5 326.5H1860.5M1855.5 496.5H1860.5M1853.5 402.5H1862.5"/>
<path class="w" d="M1868.5 375.5V317.5M1868.5 433.5V462.5M1866.5 317.5H1870.5M1866.5 462.5H1870.5M1864.5 406.5H1873.5"/>
<path class="w" d="M1879.5 367.5V322.5M1879.5 446.5V469.5M1877.5 322.5H1881.5M1877.5 469.5H1881.5M1875.5 415.5H1883.5"/>
<path class="w" d="M1890.5 374.5V337.5M1890.5 444.5V461.5M1888.5 337.5H1892.5M1888.5 461.5H1892.5M1886.5 417.5H1894.5"/>
<path class="w" d="M1901.5 372.5V330.5M1901.5 420.5V473.5M1899.5 330.5H1903.5M1899.5 473.5H1903.5M1896.5 398.5H1905.5"/>
<path class="w" d="M1912.5 370.5V327.5M1912.5 441.5V481.5M1909.5 327.5H1914.5M1909.5 481.5H1914.5M1907.5 408.5H1916.5"/>
<path class="w" d="M1922.5 377.5V351.5M1922.5 421.5V474.5M1920.5 351.5H1924.5M1920.5 474.5H1924.5M1918.5 405.5H1927.5"/>
<path class="w" d="M1933.5 370.5V349.5M1933.5 426.5V485.5M1931.5 349.5H1935.5M1931.5 485.5H1935.5M1929.5 398.5H1937.5"/>
<path class="w" d="M1944.5 374.5V310.5M1944.5 436.5V472.5M1942.5 310.5H1946.5M1942.5 472.5H1946.5M1940.5 405.5H1948.5"/>
<path class="w" d="M1955.5 379.5V313.5M1955.5 433.5V480.5M1953.5 313.5H1957.5M1953.5 480.5H1957.5M1950.5 411.5H1959.5"/>
<path class="w" d="M1966.5 389.5V363.5M1966.5 426.5V453.5M1963.5 363.5H1968.5M1963.5 453.5H1968.5M1961.5 401.5H1970.5"/>
<path class="w" d="M1976.5 377.5V321.5M1976.5 427.5V466.5M1974.5 321.5H1978.5M1974.5 466.5H1978.5M1972.5 404.5H1981.5"/>
<path class="w" d="M1987.5 358.5V339.5M1987.5 410.5V467.5M1985.5 339.5H1989.5M1985.5 467.5H1989.5M1983.5 386.5H1991.5"/>
<path class="w" d="M1998.5 380.5V326.5M1998.5 448.5V467.5M1996.5 326.5H2000.5M1996.5 467.5H2000.5M1994.5 398.5H2002.5"/>
<path class="w" d="M2009.5 353.5V274.5M2009.5 417.5V482.5M2007.5 274.5H2011.5M2007.5 482.5H2011.5M2004.5 389.5H2013.5"/>
<path class="w" d="M2020.5 361.5V295.5M2020.5 414.5V476.5M2017.5 295.5H2022.5M2017.5 476.5H2022.5M2015.5 404.5H2024.5"/>
<path class="w" d="M2030.5 354.5V316.5M2030.5 424.5V449.5M2028.5 316.5H2032.5M2028.5 449.5H2032.5M2026.5 385.5H2035.5"/>
<path class="w" d="M2041.5 337.5V296.5M2041.5 415.5V443.5M2039.5 296.5H2043.5M2039.5 443.5H2043.5M2037.5 385.5H2045.5"/>
<path class="w" d="M2052.5 362.5V313.5M2052.5 412.5V478.5M2050.5 313.5H2054.5M2050.5 478.5H2054.5M2048.5 385.5H2056.5"/>
<path class="w" d="M2063.5 369.5V341.5M2063.5 391.5V417.5M2061.5 341.5H2065.5M2061.5 417.5H2065.5M2058.5 381.5H2067.5"/>
<path class="w" d="M2074.5 361.5V315.5M2074.5 407.5V468.5M2071.5 315.5H2076.5M2071.5 468.5H2076.5M2069.5 383.5H2078.5"/>
<path class="w" d="M2084.5 351.5V321.5M2084.5 401.5V475.5M2082.5 321.5H2086.5M2082.5 475.5H2086.5M2080.5 385.5H2089.5"/>
<path class="w" d="M2095.5 371.5V327.5M2095.5 406.5V430.5M2093.5 327.5H2097.5M2093.5 430.5H2097.5M2091.5 390.5H2099.5"/>
<path class="w" d="M2106.5 358.5V320.5M2106.5 403.5V434.5M2104.5 320.5H2108.5M2104.5 434.5H2108.5M2102.5 382.5H2110.5"/>
<path class="w" d="M2117.5 362.5V331.5M2117.5 403.5V459.5M2115.5 331.5H2119.5M2115.5 459.5H2119.5M2112.5 384.5H2121.5"/>
<path class="w" d="M2128.5 361.5V320.5M2128.5 412.5V450.5M2125.5 320.5H2130.5M2125.5 450.5H2130.5M2123.5 378.5H2132.5"/>
<path class="w" d="M2138.5 350.5V309.5M2138.5 426.5V454.5M2136.5 309.5H2140.5M2136.5 454.5H2140.5M2134.5 389.5H2143.5"/>
<path class="w" d="M2149.5 359.5V299.5M2149.5 409.5V447.5M2147.5 299.5H2151.5M2147.5 447.5H2151.5M2145.5 377.5H2153.5"/>
<path class="w" d="M2160.5 362.5V312.5M2160.5 405.5V448.5M2158.5 312.5H2162.5M2158.5 448.5H2162.5M2156.5 389.5H2164.5"/>
<path class="w" d="M2171.5 368.5V331.5M2171.5 403.5V453.5M2169.5 331.5H2173.5M2169.5 453.5H2173.5M2166.5 385.5H2175.5"/>
<path class="w" d="M2182.5 368.5V312.5M2182.5 419.5V469.5M2179.5 312.5H2184.5M2179.5 469.5H2184.5M2177.5 391.5H2186.5"/>
<path class="w" d="M2192.5 357.5V294.5M2192.5 409.5V454.5M2190.5 294.5H2195.5M2190.5 454.5H2195.5M2188.5 391.5H2197.5"/>
<path class="w" d="M2203.5 367.5V338.5M2203.5 405.5V446.5M2201.5 338.5H2205.5M2201.5 446.5H2205.5M2199.5 389.5H2207.5"/>
<path class="w" d="M2214.5 358.5V308.5M2214.5 401.5V457.5M2212.5 308.5H2216.5M2212.5 457.5H2216.5M2210.5 379.5H2218.5"/>
<path class="w" d="M2225.5 371.5V314.5M2225.5 418.5V449.5M2223.5 314.5H2227.5M2223.5 449.5H2227.5M2220.5 397.5H2229.5"/>
<path class="w" d="M2236.5 356.5V309.5M2236.5 414.5V453.5M2233.5 309.5H2238.5M2233.5 453.5H2238.5M2231.5 385.5H2240.5"/>
<path class="w" d="M2246.5 373.5V298.5M2246.5 424.5V442.5M2244.5 298.5H2249.5M2244.5 442.5H2249.5M2242.5 402.5H2251.5"/>
<path class="w" d="M2257.5 375.5V355.5M2257.5 419.5V476.5M2255.5 355.5H2259.5M2255.5 476.5H2259.5M2253.5 390.5H2261.5"/>
<path class="w" d="M2268.5 366.5V342.5M2268.5 414.5V449.5M2266.5 342.5H2270.5M2266.5 449.5H2270.5M2264.5 393.5H2272.5"/>
<path class="w" d="M2279.5 375.5V313.5M2279.5 426.5V473.5M2277.5 313.5H2281.5M2277.5 473.5H2281.5M2274.5 402.5H2283.5"/>
<path class="w" d="M2290.5 369.5V316.5M2290.5 422.5V465.5M2287.5 316.5H2292.5M2287.5 465.5H2292.5M2285.5 400.5H2294.5"/>
<path class="w" d="M2300.5 380.5V346.5M2300.5 433.5V442.5M2298.5 346.5H2303.5M2298.5 442.5H2303.5M2296.5 408.5H2305.5"/>
<path class="w" d="M2311.5 387.5V351.5M2311.5 423.5V452.5M2309.5 351.5H2313.5M2309.5 452.5H2313.5M2307.5 411.5H2315.5"/>
<path class="w" d="M2322.5 392.5V351.5M2322.5 440.5V465.5M2320.5 351.5H2324.5M2320.5 465.5H2324.5M2318.5 417.5H2326.5"/>
<path class="w" d="M2333.5 380.5V337.5M2333.5 435.5V473.5M2331.5 337.5H2335.5M2331.5 473.5H2335.5M2328.5 412.5H2337.5"/>
<path class="w" d="M2344.5 374.5V288.5M2344.5 433.5V456.5M2341.5 288.5H2346.5M2341.5 456.5H2346.5M2339.5 402.5H2348.5"/>
<path class="w" d="M2354.5 395.5V352.5M2354.5 425.5V464.5M2352.5 352.5H2357.5M2352.5 464.5H2357.5M2350.5 408.5H2359.5"/>
<path class="w" d="M2365.5 388.5V364.5M2365.5 430.5V481.5M2363.5 364.5H2367.5M2363.5 481.5H2367.5M2361.5 413.5H2369.5"/>
<path class="w" d="M2376.5 400.5V350.5M2376.5 434.5V475.5M2374.5 350.5H2378.5M2374.5 475.5H2378.5M2372.5 412.5H2380.5"/>
<path class="w" d="M2387.5 390.5V308.5M2387.5 451.5V494.5M2385.5 308.5H2389.5M2385.5 494.5H2389.5M2382.5 413.5H2391.5"/>
<path class="w" d="M2398.5 385.5V339.5M2398.5 449.5V492.5M2395.5 339.5H2400.5M2395.5 492.5H2400.5M2393.5 417.5H2402.5"/>
<path class="w" d="M2408.5 407.5V383.5M2408.5 455.5V483.5M2406.5 383.5H2411.5M2406.5 483.5H2411.5M2404.5 422.5H2413.5"/>
<path class="w" d="M2419.5 385.5V315.5M2419.5 455.5V496.5M2417.5 315.5H2421.5M2417.5 496.5H2421.5M2415.5 416.5H2423.5"/>
<path class="w" d="M2430.5 393.5V349.5M2430.5 450.5V487.5M2428.5 349.5H2432.5M2428.5 487.5H2432.5M2426.5 419.5H2434.5"/>
<path class="w" d="M2441.5 416.5V342.5M2441.5 473.5V493.5M2439.5 342.5H2443.5M2439.5 493.5H2443.5M2436.5 436.5H2445.5"/>
<path class="w" d="M2452.5 416.5V393.5M2452.5 478.5V533.5M2449.5 393.5H2454.5M2449.5 533.5H2454.5M2447.5 429.5H2456.5"/>
<path class="w" d="M2462.5 415.5V348.5M2462.5 478.5V513.5M2460.5 348.5H2465.5M2460.5 513.5H2465.5M2458.5 438.5H2467.5"/>
<path class="w" d="M2473.5 397.5V348.5M2473.5 482.5V506.5M2471.5 348.5H2475.5M2471.5 506.5H2475.5M2469.5 453.5H2478.5"/>
<path class="w" d="M2484.5 413.5V342.5M2484.5 480.5V511.5M2482.5 342.5H2486.5M2482.5 511.5H2486.5M2480.5 439.5H2488.5"/>
<path class="w" d="M2495.5 396.5V318.5M2495.5 484.5V515.5M2493.5 318.5H2497.5M2493.5 515.5H2497.5M2490.5 474.5H2499.5"/>
<path class="w" d="M2506.5 422.5V344.5M2506.5 483.5V527.5M2503.5 344.5H2508.5M2503.5 527.5H2508.5M2501.5 437.5H2510.5"/>
<path class="w" d="M2516.5 415.5V327.5M2516.5 481.5V510.5M2514.5 327.5H2519.5M2514.5 510.5H2519.5M2512.5 446.5H2521.5"/>
<path class="w" d="M2527.5 412.5V325.5M2527.5 484.5V511.5M2525.5 325.5H2529.5M2525.5 511.5H2529.5M2523.5 463.5H2532.5"/>
<path class="w" d="M2538.5 432.5V375.5M2538.5 479.5V517.5M2536.5 375.5H2540.5M2536.5 517.5H2540.5M2534.5 440.5H2542.5"/>
<path class="w" d="M2549.5 418.5V327.5M2549.5 482.5V523.5M2547.5 327.5H2551.5M2547.5 523.5H2551.5M2544.5 447.5H2553.5"/>
<path class="w" d="M2560.5 410.5V353.5M2560.5 497.5V515.5M2557.5 353.5H2562.5M2557.5 515.5H2562.5M2555.5 457.5H2564.5"/>
<path class="w" d="M2570.5 413.5V359.5M2570.5 502.5V530.5M2568.5 359.5H2573.5M2568.5 530.5H2573.5M2566.5 456.5H2575.5"/>
<path class="w" d="M2581.5 408.5V356.5M2581.5 497.5V535.5M2579.5 356.5H2583.5M2579.5 535.5H2583.5M2577.5 455.5H2586.5"/>
<path class="w" d="M2592.5 392.5V325.5M2592.5 487.5V538.5M2590.5 325.5H2594.5M2590.5 538.5H2594.5M2588.5 454.5H2596.5"/>
<path class="w" d="M2603.5 398.5V333.5M2603.5 502.5V539.5M2601.5 333.5H2605.5M2601.5 539.5H2605.5M2598.5 459.5H2607.5"/>
<path class="w" d="M2614.5 404.5V358.5M2614.5 488.5V542.5M2611.5 358.5H2616.5M2611.5 542.5H2616.5M2609.5 443.5H2618.5"/>
<path class="w" d="M2624.5 388.5V343.5M2624.5 503.5V539.5M2622.5 343.5H2627.5M2622.5 539.5H2627.5M2620.5 458.5H2629.5"/>
<path class="w" d="M2635.5 375.5V347.5M2635.5 498.5V552.5M2633.5 347.5H2637.5M2633.5 552.5H2637.5M2631.5 465.5H2640.5"/>
<path class="w" d="M2646.5 375.5V345.5M2646.5 487.5V543.5M2644.5 345.5H2648.5M2644.5 543.5H2648.5M2642.5 460.5H2650.5"/>
<path class="w" d="M2657.5 390.5V352.5M2657.5 500.5V538.5M2655.5 352.5H2659.5M2655.5 538.5H2659.5M2652.5 455.5H2661.5"/>
<path class="w" d="M2668.5 393.5V344.5M2668.5 488.5V547.5M2665.5 344.5H2670.5M2665.5 547.5H2670.5M2663.5 453.5H2672.5"/>
<path class="w" d="M2678.5 415.5V351.5M2678.5 480.5V547.5M2676.5 351.5H2681.5M2676.5 547.5H2681.5M2674.5 445.5H2683.5"/>
<path class="w" d="M2689.5 391.5V319.5M2689.5 492.5V553.5M2687.5 319.5H2691.5M2687.5 553.5H2691.5M2685.5 437.5H2694.5"/>
<path class="w" d="M2700.5 377.5V309.5M2700.5 482.5V538.5M2698.5 309.5H2702.5M2698.5 538.5H2702.5M2696.5 444.5H2704.5"/>
<path class="w" d="M2711.5 384.5V321.5M2711.5 494.5V541.5M2709.5 321.5H2713.5M2709.5 541.5H2713.5M2706.5 451.5H2715.5"/>
<path class="w" d="M2722.5 391.5V237.5M2722.5 496.5V542.5M2719.5 237.5H2724.5M2719.5 542.5H2724.5M2717.5 448.5H2726.5"/>
<path class="w" d="M2732.5 381.5V275.5M2732.5 488.5V529.5M2730.5 275.5H2735.5M2730.5 529.5H2735.5M2728.5 441.5H2737.5"/>
<path class="w" d="M2743.5 385.5V294.5M2743.5 480.5V535.5M2741.5 294.5H2745.5M2741.5 535.5H2745.5M2739.5 441.5H2748.5"/>
<path class="w" d="M2754.5 389.5V281.5M2754.5 484.5V540.5M2752.5 281.5H2756.5M2752.5 540.5H2756.5M2750.5 433.5H2758.5"/>
<path class="w" d="M2765.5 380.5V223.5M2765.5 494.5V543.5M2763.5 223.5H2767.5M2763.5 543.5H2767.5M2760.5 425.5H2769.5"/>
<path class="w" d="M2776.5 362.5V206.5M2776.5 484.5V530.5M2773.5 206.5H2778.5M2773.5 530.5H2778.5M2771.5 426.5H2780.5"/>
<path class="w" d="M2786.5 343.5V210.5M2786.5 492.5V525.5M2784.5 210.5H2789.5M2784.5 525.5H2789.5M2782.5 440.5H2791.5"/>
<path class="w" d="M2797.5 360.5V236.5M2797.5 476.5V543.5M2795.5 236.5H2799.5M2795.5 543.5H2799.5M2793.5 446.5H2802.5"/>
<path class="w" d="M2808.5 354.5V197.5M2808.5 479.5V533.5M2806.5 197.5H2810.5M2806.5 533.5H2810.5M2804.5 440.5H2812.5"/>
<path class="w" d="M2819.5 353.5V266.5M2819.5 468.5V541.5M2817.5 266.5H2821.5M2817.5 541.5H2821.5M2815.5 441.5H2823.5"/>
<path class="w" d="M2830.5 316.5V145.5M2830.5 468.5V532.5M2827.5 145.5H2832.5M2827.5 532.5H2832.5M2825.5 428.5H2834.5"/>
<path class="w" d="M2840.5 351.5V206.5M2840.5 452.5V530.5M2838.5 206.5H2843.5M2838.5 530.5H2843.5M2836.5 437.5H2845.5"/>
<path class="w" d="M2851.5 350.5V207.5M2851.5 460.5V516.5M2849.5 207.5H2853.5M2849.5 516.5H2853.5M2847.5 423.5H2856.5"/>
<path class="w" d="M2862.5 377.5V291.5M2862.5 440.5V514.5M2860.5 291.5H2864.5M2860.5 514.5H2864.5M2858.5 400.5H2866.5"/>
<path class="w" d="M2873.5 339.5V205.5M2873.5 439.5V525.5M2871.5 205.5H2875.5M2871.5 525.5H2875.5M2869.5 403.5H2877.5"/>
<path class="w" d="M2884.5 305.5V177.5M2884.5 416.5V493.5M2881.5 177.5H2886.5M2881.5 493.5H2886.5M2879.5 381.5H2888.5"/>
<path class="w" d="M2894.5 316.5V234.5M2894.5 406.5V461.5M2892.5 234.5H2897.5M2892.5 461.5H2897.5M2890.5 379.5H2899.5"/>
<path class="w" d="M2905.5 287.5V126.5M2905.5 405.5V491.5M2903.5 126.5H2907.5M2903.5 491.5H2907.5M2901.5 377.5H2910.5"/>
<path class="w" d="M2916.5 269.5V141.5M2916.5 392.5V477.5M2914.5 141.5H2918.5M2914.5 477.5H2918.5M2912.5 381.5H2920.5"/>
<path class="w" d="M2927.5 306.5V199.5M2927.5 403.5V477.5M2925.5 199.5H2929.5M2925.5 477.5H2929.5M2923.5 345.5H2931.5"/>
<path class="w" d="M2938.5 266.5V155.5M2938.5 399.5V445.5M2935.5 155.5H2940.5M2935.5 445.5H2940.5M2933.5 362.5H2942.5"/>
<path class="w" d="M2948.5 253.5V110.5M2948.5 389.5V446.5M2946.5 110.5H2951.5M2946.5 446.5H2951.5M2944.5 371.5H2953.5"/>
<path class="w" d="M2959.5 257.5V97.5M2959.5 402.5V430.5M2957.5 97.5H2961.5M2957.5 430.5H2961.5M2955.5 323.5H2964.5"/>
<path class="w" d="M2970.5 259.5V168.5M2970.5 375.5V466.5M2968.5 168.5H2972.5M2968.5 466.5H2972.5M2966.5 343.5H2974.5"/>
<path class="w" d="M2981.5 246.5V138.5M2981.5 365.5V459.5M2979.5 138.5H2983.5M2979.5 459.5H2983.5M2977.5 339.5H2985.5"/>
<path class="w" d="M2992.5 256.5V127.5M2992.5 397.5V451.5M2989.5 127.5H2994.5M2989.5 451.5H2994.5M2987.5 351.5H2996.5"/>
<path class="w" d="M3002.5 267.5V78.5M3002.5 401.5V456.5M3000.5 78.5H3005.5M3000.5 456.5H3005.5M2998.5 351.5H3007.5"/>
<path class="w" d="M3013.5 254.5V92.5M3013.5 405.5V473.5M3011.5 92.5H3015.5M3011.5 473.5H3015.5M3009.5 363.5H3018.5"/>
<path class="w" d="M3024.5 280.5V216.5M3024.5 383.5V461.5M3022.5 216.5H3026.5M3022.5 461.5H3026.5M3020.5 357.5H3028.5"/>
<path class="w" d="M3035.5 278.5V154.5M3035.5 392.5V456.5M3033.5 154.5H3037.5M3033.5 456.5H3037.5M3031.5 356.5H3039.5"/>
<path class="w" d="M3046.5 300.5V214.5M3046.5 393.5V470.5M3043.5 214.5H3048.5M3043.5 470.5H3048.5M3041.5 352.5H3050.5"/>
<path class="w" d="M3056.5 274.5V104.5M3056.5 419.5V451.5M3054.5 104.5H3059.5M3054.5 451.5H3059.5M3052.5 355.5H3061.5"/>
<path class="w" d="M3067.5 313.5V157.5M3067.5 429.5V452.5M3065.5 157.5H3069.5M3065.5 452.5H3069.5M3063.5 380.5H3072.5"/>
<path class="w" d="M3078.5 301.5V191.5M3078.5 432.5V465.5M3076.5 191.5H3080.5M3076.5 465.5H3080.5M3074.5 377.5H3082.5"/>
<path class="w" d="M3089.5 348.5V274.5M3089.5 411.5V503.5M3087.5 274.5H3091.5M3087.5 503.5H3091.5M3085.5 375.5H3093.5"/>
<path class="w" d="M3100.5 326.5V234.5M3100.5 423.5V464.5M3098.5 234.5H3102.5M3098.5 464.5H3102.5M3095.5 372.5H3104.5"/>
<path class="w" d="M3110.5 323.5V210.5M3110.5 428.5V464.5M3108.5 210.5H3113.5M3108.5 464.5H3113.5M3106.5 381.5H3115.5"/>
<path class="w" d="M3121.5 318.5V265.5M3121.5 420.5V493.5M3119.5 265.5H3123.5M3119.5 493.5H3123.5M3117.5 389.5H3126.5"/>
<path class="w" d="M3132.5 339.5V254.5M3132.5 428.5V486.5M3130.5 254.5H3134.5M3130.5 486.5H3134.5M3128.5 383.5H3136.5"/>
<path class="w" d="M3143.5 362.5V293.5M3143.5 414.5V463.5M3141.5 293.5H3145.5M3141.5 463.5H3145.5M3139.5 399.5H3147.5"/>
<path class="w" d="M3154.5 327.5V243.5M3154.5 407.5V465.5M3152.5 243.5H3156.5M3152.5 465.5H3156.5M3149.5 385.5H3158.5"/>
<path class="w" d="M3164.5 348.5V270.5M3164.5 423.5V466.5M3162.5 270.5H3167.5M3162.5 466.5H3167.5M3160.5 387.5H3169.5"/>
<path class="w" d="M3175.5 348.5V294.5M3175.5 430.5V477.5M3173.5 294.5H3177.5M3173.5 477.5H3177.5M3171.5 372.5H3180.5"/>
<path class="w" d="M3186.5 355.5V297.5M3186.5 411.5V460.5M3184.5 297.5H3188.5M3184.5 460.5H3188.5M3182.5 386.5H3190.5"/>
<path class="w" d="M3197.5 351.5V271.5M3197.5 431.5V478.5M3195.5 271.5H3199.5M3195.5 478.5H3199.5M3193.5 419.5H3201.5"/>
<path class="o" d="M108.5 217.5L111.5 222.5L108.5 227.5L105.5 222.5Z"/>
<path class="o" d="M108.5 248.5L111.5 253.5L108.5 258.5L105.5 253.5Z"/>
<path class="o" d="M108.5 475.5L111.5 480.5L108.5 485.5L105.5 480.5Z"/>
<path class="o" d="M118.5 215.5L121.5 220.5L118.5 225.5L115.5 220.5Z"/>
<path class="o" d="M129.5 214.5L132.6 219.5L129.5 224.5L126.5 219.5Z"/>
<path class="o" d="M129.5 231.5L132.6 236.5L129.5 241.5L126.5 236.5Z"/>
<path class="o" d="M129.5 299.5L132.6 304.5L129.5 309.5L126.5 304.5Z"/>
<path class="o" d="M129.5 465.5L132.6 470.5L129.5 475.5L126.5 470.5Z"/>
<path class="o" d="M129.5 475.5L132.6 480.5L129.5 485.5L126.5 480.5Z"/>
<path class="o" d="M151.5 245.5L154.6 250.5L151.5 255.5L148.4 250.5Z"/>
<path class="o" d="M151.5 266.5L154.6 271.5L151.5 276.5L148.4 271.5Z"/>
<path class="o" d="M151.5 302.5L154.6 307.5L151.5 312.5L148.4 307.5Z"/>
<path class="o" d="M183.5 210.5L186.6 215.5L183.5 220.5L180.4 215.5Z"/>
<path class="o" d="M194.5 179.5L197.6 184.5L194.5 189.5L191.4 184.5Z"/>
<path class="o" d="M205.5 183.5L208.6 188.5L205.5 193.5L202.4 188.5Z"/>
<path class="o" d="M205.5 200.5L208.6 205.5L205.5 210.5L202.4 205.5Z"/>
<path class="o" d="M226.5 218.5L229.6 223.5L226.5 228.5L223.4 223.5Z"/>
<path class="o" d="M248.5 194.5L251.6 199.5L248.5 204.5L245.4 199.5Z"/>
<path class="o" d="M259.5 201.5L262.6 206.5L259.5 211.5L256.4 206.5Z"/>
<path class="o" d="M259.5 271.5L262.6 276.5L259.5 281.5L256.4 276.5Z"/>
<path class="o" d="M280.5 242.5L283.6 247.5L280.5 252.5L277.4 247.5Z"/>
<path class="o" d="M291.5 274.5L294.6 279.5L291.5 284.5L288.4 279.5Z"/>
<path class="o" d="M302.5 229.5L305.6 234.5L302.5 239.5L299.4 234.5Z"/>
<path class="o" d="M313.5 275.5L316.6 280.5L313.5 285.5L310.4 280.5Z"/>
<path class="o" d="M475.5 350.5L478.6 355.5L475.5 360.5L472.4 355.5Z"/>
<path class="o" d="M507.5 359.5L510.6 364.5L507.5 369.5L504.4 364.5Z"/>
<path class="o" d="M551.5 379.5L554.5 384.5L551.5 389.5L548.5 384.5Z"/>
<path class="o" d="M583.5 419.5L586.5 424.5L583.5 429.5L580.5 424.5Z"/>
<path class="o" d="M583.5 424.5L586.5 429.5L583.5 434.5L580.5 429.5Z"/>
<path class="o" d="M594.5 420.5L597.5 425.5L594.5 430.5L591.5 425.5Z"/>
<path class="o" d="M594.5 452.5L597.5 457.5L594.5 462.5L591.5 457.5Z"/>
<path class="o" d="M605.5 435.5L608.5 440.5L605.5 445.5L602.5 440.5Z"/>
<path class="o" d="M605.5 452.5L608.5 457.5L605.5 462.5L602.5 457.5Z"/>
<path class="o" d="M626.5 453.5L629.5 458.5L626.5 463.5L623.5 458.5Z"/>
<path class="o" d="M669.5 459.5L672.5 464.5L669.5 469.5L666.5 464.5Z"/>
<path class="o" d="M702.5 445.5L705.5 450.5L702.5 455.5L699.5 450.5Z"/>
<path class="o" d="M767.5 453.5L770.5 458.5L767.5 463.5L764.5 458.5Z"/>
<path class="o" d="M788.5 449.5L791.5 454.5L788.5 459.5L785.5 454.5Z"/>
<path class="o" d="M788.5 452.5L791.5 457.5L788.5 462.5L785.5 457.5Z"/>
<path class="o" d="M821.5 427.5L824.5 432.5L821.5 437.5L818.5 432.5Z"/>
<path class="o" d="M821.5 434.5L824.5 439.5L821.5 444.5L818.5 439.5Z"/>
<path class="o" d="M831.5 393.5L834.5 398.5L831.5 403.5L828.5 398.5Z"/>
<path class="o" d="M831.5 441.5L834.5 446.5L831.5 451.5L828.5 446.5Z"/>
<path class="o" d="M831.5 465.5L834.5 470.5L831.5 475.5L828.5 470.5Z"/>
<path class="o" d="M831.5 469.5L834.5 474.5L831.5 479.5L828.5 474.5Z"/>
<path class="o" d="M831.5 562.5L834.5 567.5L831.5 572.5L828.5 567.5Z"/>
<path class="o" d="M842.5 381.5L845.5 386.5L842.5 391.5L839.5 386.5Z"/>
<path class="o" d="M853.5 396.5L856.5 401.5L853.5 406.5L850.5 401.5Z"/>
<path class="o" d="M864.5 387.5L867.5 392.5L864.5 397.5L861.5 392.5Z"/>
<path class="o" d="M864.5 433.5L867.5 438.5L864.5 443.5L861.5 438.5Z"/>
<path class="o" d="M875.5 405.5L878.5 410.5L875.5 415.5L872.5 410.5Z"/>
<path class="o" d="M875.5 414.5L878.5 419.5L875.5 424.5L872.5 419.5Z"/>
<path class="o" d="M885.5 402.5L888.5 407.5L885.5 412.5L882.5 407.5Z"/>
<path class="o" d="M907.5 356.5L910.5 361.5L907.5 366.5L904.5 361.5Z"/>
<path class="o" d="M918.5 349.5L921.5 354.5L918.5 359.5L915.5 354.5Z"/>
<path class="o" d="M929.5 359.5L932.5 364.5L929.5 369.5L926.5 364.5Z"/>
<path class="o" d="M939.5 380.5L942.5 385.5L939.5 390.5L936.5 385.5Z"/>
<path class="o" d="M939.5 387.5L942.5 392.5L939.5 397.5L936.5 392.5Z"/>
<path class="o" d="M950.5 357.5L953.5 362.5L950.5 367.5L947.5 362.5Z"/>
<path class="o" d="M983.5 331.5L986.5 336.5L983.5 341.5L980.5 336.5Z"/>
<path class="o" d="M983.5 350.5L986.5 355.5L983.5 360.5L980.5 355.5Z"/>
<path class="o" d="M983.5 368.5L986.5 373.5L983.5 378.5L980.5 373.5Z"/>
<path class="o" d="M1004.5 317.5L1007.5 322.5L1004.5 327.5L1001.5 322.5Z"/>
<path class="o" d="M1004.5 323.5L1007.5 328.5L1004.5 333.5L1001.5 328.5Z"/>
<path class="o" d="M1015.5 313.5L1018.5 318.5L1015.5 323.5L1012.5 318.5Z"/>
<path class="o" d="M1026.5 294.5L1029.5 299.5L1026.5 304.5L1023.5 299.5Z"/>
<path class="o" d="M1037.5 312.5L1040.5 317.5L1037.5 322.5L1034.5 317.5Z"/>
<path class="o" d="M1037.5 319.5L1040.5 324.5L1037.5 329.5L1034.5 324.5Z"/>
<path class="o" d="M1037.5 337.5L1040.5 342.5L1037.5 347.5L1034.5 342.5Z"/>
<path class="o" d="M1047.5 309.5L1050.5 314.5L1047.5 319.5L1044.5 314.5Z"/>
<path class="o" d="M1047.5 323.5L1050.5 328.5L1047.5 333.5L1044.5 328.5Z"/>
<path class="o" d="M1058.5 269.5L1061.5 274.5L1058.5 279.5L1055.5 274.5Z"/>
<path class="o" d="M1069.5 261.5L1072.5 266.5L1069.5 271.5L1066.5 266.5Z"/>
<path class="o" d="M1080.5 266.5L1083.5 271.5L1080.5 276.5L1077.5 271.5Z"/>
<path class="o" d="M1101.5 254.5L1104.5 259.5L1101.5 264.5L1098.5 259.5Z"/>
<path class="o" d="M1112.5 290.5L1115.5 295.5L1112.5 300.5L1109.5 295.5Z"/>
<path class="o" d="M1123.5 267.5L1126.5 272.5L1123.5 277.5L1120.5 272.5Z"/>
<path class="o" d="M1123.5 271.5L1126.5 276.5L1123.5 281.5L1120.5 276.5Z"/>
<path class="o" d="M1123.5 453.5L1126.5 458.5L1123.5 463.5L1120.5 458.5Z"/>
<path class="o" d="M1123.5 465.5L1126.5 470.5L1123.5 475.5L1120.5 470.5Z"/>
<path class="o" d="M1123.5 469.5L1126.5 474.5L1123.5 479.5L1120.5 474.5Z"/>
<path class="o" d="M1134.5 232.5L1137.5 237.5L1134.5 242.5L1131.5 237.5Z"/>
<path class="o" d="M1134.5 280.5L1137.5 285.5L1134.5 290.5L1131.5 285.5Z"/>
<path class="o" d="M1134.5 339.5L1137.5 344.5L1134.5 349.5L1131.5 344.5Z"/>
<path class="o" d="M1134.5 440.5L1137.5 445.5L1134.5 450.5L1131.5 445.5Z"/>
<path class="o" d="M1134.5 444.5L1137.5 449.5L1134.5 454.5L1131.5 449.5Z"/>
<path class="o" d="M1145.5 236.5L1148.5 241.5L1145.5 246.5L1142.5 241.5Z"/>
<path class="o" d="M1145.5 271.5L1148.5 276.5L1145.5 281.5L1142.5 276.5Z"/>
<path class="o" d="M1155.5 256.5L1158.5 261.5L1155.5 266.5L1152.5 261.5Z"/>
<path class="o" d="M1155.5 282.5L1158.5 287.5L1155.5 292.5L1152.5 287.5Z"/>
<path class="o" d="M1166.5 241.5L1169.5 246.5L1166.5 251.5L1163.5 246.5Z"/>
<path class="o" d="M1166.5 269.5L1169.5 274.5L1166.5 279.5L1163.5 274.5Z"/>
<path class="o" d="M1166.5 479.5L1169.5 484.5L1166.5 489.5L1163.5 484.5Z"/>
<path class="o" d="M1177.5 209.5L1180.5 214.5L1177.5 219.5L1174.5 214.5Z"/>
<path class="o" d="M1177.5 303.5L1180.5 308.5L1177.5 313.5L1174.5 308.5Z"/>
<path class="o" d="M1177.5 332.5L1180.5 337.5L1177.5 342.5L1174.5 337.5Z"/>
<path class="o" d="M1177.5 453.5L1180.5 458.5L1177.5 463.5L1174.5 458.5Z"/>
<path class="o" d="M1177.5 478.5L1180.5 483.5L1177.5 488.5L1174.5 483.5Z"/>
<path class="o" d="M1188.5 232.5L1191.5 237.5L1188.5 242.5L1185.5 237.5Z"/>
<path class="o" d="M1188.5 312.5L1191.5 317.5L1188.5 322.5L1185.5 317.5Z"/>
<path class="o" d="M1199.5 256.5L1202.5 261.5L1199.5 266.5L1196.5 261.5Z"/>
<path class="o" d="M1209.5 307.5L1212.5 312.5L1209.5 317.5L1206.5 312.5Z"/>
<path class="o" d="M1220.5 275.5L1223.5 280.5L1220.5 285.5L1217.5 280.5Z"/>
<path class="o" d="M1231.5 304.5L1234.5 309.5L1231.5 314.5L1228.5 309.5Z"/>
<path class="o" d="M1231.5 338.5L1234.5 343.5L1231.5 348.5L1228.5 343.5Z"/>
<path class="o" d="M1242.5 283.5L1245.5 288.5L1242.5 293.5L1239.5 288.5Z"/>
<path class="o" d="M1253.5 322.5L1256.5 327.5L1253.5 332.5L1250.5 327.5Z"/>
<path class="o" d="M1253.5 334.5L1256.5 339.5L1253.5 344.5L1250.5 339.5Z"/>
<path class="o" d="M1263.5 329.5L1266.5 334.5L1263.5 339.5L1260.5 334.5Z"/>
<path class="o" d="M1285.5 336.5L1288.5 341.5L1285.5 346.5L1282.5 341.5Z"/>
<path class="o" d="M1285.5 342.5L1288.5 347.5L1285.5 352.5L1282.5 347.5Z"/>
<path class="o" d="M1296.5 328.5L1299.5 333.5L1296.5 338.5L1293.5 333.5Z"/>
<path class="o" d="M1350.5 319.5L1353.5 324.5L1350.5 329.5L1347.5 324.5Z"/>
<path class="o" d="M1371.5 363.5L1374.5 368.5L1371.5 373.5L1368.5 368.5Z"/>
<path class="o" d="M1404.5 361.5L1407.5 366.5L1404.5 371.5L1401.5 366.5Z"/>
<path class="o" d="M1479.5 355.5L1482.5 360.5L1479.5 365.5L1476.5 360.5Z"/>
<path class="o" d="M1555.5 353.5L1558.5 358.5L1555.5 363.5L1552.5 358.5Z"/>
<path class="o" d="M1577.5 513.5L1580.5 518.5L1577.5 523.5L1574.5 518.5Z"/>
<path class="o" d="M1609.5 360.5L1612.5 365.5L1609.5 370.5L1606.5 365.5Z"/>
<path class="o" d="M1609.5 377.5L1612.5 382.5L1609.5 387.5L1606.5 382.5Z"/>
<path class="o" d="M1641.5 362.5L1644.5 367.5L1641.5 372.5L1638.5 367.5Z"/>
<path class="o" d="M1674.5 357.5L1677.5 362.5L1674.5 367.5L1671.5 362.5Z"/>
<path class="o" d="M1685.5 343.5L1688.5 348.5L1685.5 353.5L1682.5 348.5Z"/>
<path class="o" d="M1836.5 329.5L1839.5 334.5L1836.5 339.5L1833.5 334.5Z"/>
<path class="o" d="M1836.5 346.5L1839.5 351.5L1836.5 356.5L1833.5 351.5Z"/>
<path class="o" d="M1857.5 296.5L1860.5 301.5L1857.5 306.5L1854.5 301.5Z"/>
<path class="o" d="M1901.5 281.5L1904.5 286.5L1901.5 291.5L1898.5 286.5Z"/>
<path class="o" d="M1922.5 275.5L1925.5 280.5L1922.5 285.5L1919.5 280.5Z"/>
<path class="o" d="M1922.5 299.5L1925.5 304.5L1922.5 309.5L1919.5 304.5Z"/>
<path class="o" d="M1922.5 490.5L1925.5 495.5L1922.5 500.5L1919.5 495.5Z"/>
<path class="o" d="M1966.5 297.5L1969.5 302.5L1966.5 307.5L1963.5 302.5Z"/>
<path class="o" d="M1966.5 319.5L1969.5 324.5L1966.5 329.5L1963.5 324.5Z"/>
<path class="o" d="M2063.5 289.5L2066.6 294.5L2063.5 299.5L2060.4 294.5Z"/>
<path class="o" d="M2063.5 307.5L2066.6 312.5L2063.5 317.5L2060.4 312.5Z"/>
<path class="o" d="M2063.5 323.5L2066.6 328.5L2063.5 333.5L2060.4 328.5Z"/>
<path class="o" d="M2063.5 441.5L2066.6 446.5L2063.5 451.5L2060.4 446.5Z"/>
<path class="o" d="M2095.5 310.5L2098.6 315.5L2095.5 320.5L2092.4 315.5Z"/>
<path class="o" d="M2095.5 475.5L2098.6 480.5L2095.5 485.5L2092.4 480.5Z"/>
<path class="o" d="M2106.5 244.5L2109.6 249.5L2106.5 254.5L2103.4 249.5Z"/>
<path class="o" d="M2128.5 279.5L2131.6 284.5L2128.5 289.5L2125.4 284.5Z"/>
<path class="o" d="M2214.5 464.5L2217.6 469.5L2214.5 474.5L2211.4 469.5Z"/>
<path class="o" d="M2279.5 554.5L2282.6 559.5L2279.5 564.5L2276.4 559.5Z"/>
<path class="o" d="M2311.5 289.5L2314.6 294.5L2311.5 299.5L2308.4 294.5Z"/>
<path class="o" d="M2311.5 323.5L2314.6 328.5L2311.5 333.5L2308.4 328.5Z"/>
<path class="o" d="M2322.5 278.5L2325.6 283.5L2322.5 288.5L2319.4 283.5Z"/>
<path class="o" d="M2333.5 216.5L2336.6 221.5L2333.5 226.5L2330.4 221.5Z"/>
<path class="o" d="M2354.5 295.5L2357.6 300.5L2354.5 305.5L2351.4 300.5Z"/>
<path class="o" d="M2354.5 328.5L2357.6 333.5L2354.5 338.5L2351.4 333.5Z"/>
<path class="o" d="M2365.5 319.5L2368.6 324.5L2365.5 329.5L2362.4 324.5Z"/>
<path class="o" d="M2376.5 305.5L2379.6 310.5L2376.5 315.5L2373.4 310.5Z"/>
<path class="o" d="M2376.5 494.5L2379.6 499.5L2376.5 504.5L2373.4 499.5Z"/>
<path class="o" d="M2408.5 315.5L2411.6 320.5L2408.5 325.5L2405.4 320.5Z"/>
<path class="o" d="M2430.5 256.5L2433.6 261.5L2430.5 266.5L2427.4 261.5Z"/>
<path class="o" d="M2441.5 220.5L2444.6 225.5L2441.5 230.5L2438.4 225.5Z"/>
<path class="o" d="M2452.5 295.5L2455.6 300.5L2452.5 305.5L2449.4 300.5Z"/>
<path class="o" d="M2462.5 275.5L2465.6 280.5L2462.5 285.5L2459.4 280.5Z"/>
<path class="o" d="M2473.5 259.5L2476.6 264.5L2473.5 269.5L2470.4 264.5Z"/>
<path class="o" d="M2484.5 282.5L2487.6 287.5L2484.5 292.5L2481.4 287.5Z"/>
<path class="o" d="M2506.5 296.5L2509.6 301.5L2506.5 306.5L2503.4 301.5Z"/>
<path class="o" d="M2516.5 285.5L2519.6 290.5L2516.5 295.5L2513.4 290.5Z"/>
<path class="o" d="M2527.5 280.5L2530.6 285.5L2527.5 290.5L2524.4 285.5Z"/>
<path class="o" d="M2538.5 333.5L2541.6 338.5L2538.5 343.5L2535.4 338.5Z"/>
<path class="o" d="M2538.5 338.5L2541.6 343.5L2538.5 348.5L2535.4 343.5Z"/>
<path class="o" d="M2549.5 254.5L2552.6 259.5L2549.5 264.5L2546.4 259.5Z"/>
<path class="o" d="M2560.5 243.5L2563.6 248.5L2560.5 253.5L2557.4 248.5Z"/>
<path class="o" d="M2570.5 256.5L2573.6 261.5L2570.5 266.5L2567.4 261.5Z"/>
<path class="o" d="M2581.5 246.5L2584.6 251.5L2581.5 256.5L2578.4 251.5Z"/>
<path class="o" d="M2732.5 156.5L2735.6 161.5L2732.5 166.5L2729.4 161.5Z"/>
<path class="o" d="M2743.5 186.5L2746.6 191.5L2743.5 196.5L2740.4 191.5Z"/>
<path class="o" d="M2754.5 231.5L2757.6 236.5L2754.5 241.5L2751.4 236.5Z"/>
<path class="o" d="M2754.5 236.5L2757.6 241.5L2754.5 246.5L2751.4 241.5Z"/>
<path class="o" d="M2797.5 138.5L2800.6 143.5L2797.5 148.5L2794.4 143.5Z"/>
<path class="o" d="M2819.5 174.5L2822.6 179.5L2819.5 184.5L2816.4 179.5Z"/>
<path class="o" d="M2840.5 166.5L2843.6 171.5L2840.5 176.5L2837.4 171.5Z"/>
<path class="o" d="M2862.5 236.5L2865.6 241.5L2862.5 246.5L2859.4 241.5Z"/>
<path class="o" d="M2862.5 245.5L2865.6 250.5L2862.5 255.5L2859.4 250.5Z"/>
<path class="o" d="M2862.5 274.5L2865.6 279.5L2862.5 284.5L2859.4 279.5Z"/>
<path class="o" d="M2873.5 163.5L2876.6 168.5L2873.5 173.5L2870.4 168.5Z"/>
<path class="o" d="M2894.5 173.5L2897.6 178.5L2894.5 183.5L2891.4 178.5Z"/>
<path class="o" d="M2894.5 177.5L2897.6 182.5L2894.5 187.5L2891.4 182.5Z"/>
<path class="o" d="M2927.5 109.5L2930.6 114.5L2927.5 119.5L2924.4 114.5Z"/>
<path class="o" d="M3024.5 86.5L3027.6 91.5L3024.5 96.5L3021.4 91.5Z"/>
<path class="o" d="M3024.5 104.5L3027.6 109.5L3024.5 114.5L3021.4 109.5Z"/>
<path class="o" d="M3046.5 121.5L3049.6 126.5L3046.5 131.5L3043.4 126.5Z"/>
<path class="o" d="M3089.5 232.5L3092.6 237.5L3089.5 242.5L3086.4 237.5Z"/>
<path class="o" d="M3089.5 235.5L3092.6 240.5L3089.5 245.5L3086.4 240.5Z"/>
<path class="o" d="M3143.5 262.5L3146.6 267.5L3143.5 272.5L3140.4 267.5Z"/>
<path class="o" d="M3143.5 275.5L3146.6 280.5L3143.5 285.5L3140.4 280.5Z"/>
<polyline points="96.8,304.7 107.7,302.3 118.5,349.7 129.3,348 140.1,312 150.9,301 161.7,327.3 172.5,254.7 183.3,340.3 194.1,208 204.9,196.3 215.7,309.7 226.5,276.3 237.3,255.3 248.1,303 258.9,377 269.7,313.7 280.5,333 291.3,346.3 302.1,282.3 312.9,331.7 323.7,301.3 334.5,312 345.3,355.3 356.1,365.7 366.9,380.7 377.7,346.3 388.5,384 399.3,363 410.1,379.7 420.9,292.3 431.7,364.7 442.5,360.3 453.3,343.7 464.1,316.3 474.9,289 485.7,353.7 496.5,385.7 507.3,391 518.1,338 528.9,359 539.7,329.7 550.5,374 561.3,372.7 572.1,378.3 582.9,368 593.7,402 604.5,398 615.3,356.3 626.1,399.7 636.9,415.7 647.7,446.7 658.5,379.7 669.3,416.3 680.1,431.7 690.9,402.3 701.7,435.7 712.5,407.7 723.3,429.3 734.1,409 744.9,416.7 755.7,406.3 766.5,400 777.3,409 788.1,403.3 798.9,405.3 809.7,385 820.6,391.3 831.4,403 842.2,426.7 853,387 863.8,417.7 874.6,415.3 885.4,417.3 896.2,406.3 907,395 917.8,396 928.6,433 939.4,396.7 950.2,395.7 961,427 971.8,430.3 982.6,466 993.4,445 1004.2,427.7 1015,423.7 1025.8,433 1036.6,383 1047.4,429 1058.2,431.7 1069,388 1079.8,347.3 1090.6,370.3 1101.4,356.3 1112.2,332.3 1123,372 1133.8,339 1144.6,364.7 1155.4,319 1166.2,389.7 1177,371.7 1187.8,378.7 1198.6,321.7 1209.4,353 1220.2,319.7 1231,333 1241.8,346.7 1252.6,274.3 1263.4,311.3 1274.2,366.3 1285,347.3 1295.8,286.3 1306.6,316.3 1317.4,351.3 1328.2,369.7 1339,410.3 1349.8,356.3 1360.6,289.7 1371.4,332.3 1382.2,313.7 1393,369 1403.8,396.3 1414.6,387.7 1425.4,385.7 1436.2,418 1447,387.7 1457.8,376.7 1468.6,377.7 1479.4,370.7 1490.2,388.3 1501,410.7 1511.8,385.7 1522.6,383.7 1533.4,383 1544.3,404.7 1555.1,393 1565.9,375.7 1576.7,347.7 1587.5,355.3 1598.3,339 1609.1,381 1619.9,342.7 1630.7,349.3 1641.5,380.7 1652.3,379 1663.1,392 1673.9,398 1684.7,391 1695.5,427 1706.3,425.7 1717.1,375.7 1727.9,363 1738.7,310.3 1749.5,371.3 1760.3,344.7 1771.1,366.3 1781.9,348.3 1792.7,388.3 1803.5,359.7 1814.3,376.3 1825.1,398.7 1835.9,336.3 1846.7,378 1857.5,386.3 1868.3,343.3 1879.1,358.3 1889.9,373.7 1900.7,374.7 1911.5,348 1922.3,321.3 1933.1,351.7 1943.9,354.7 1954.7,377 1965.5,380 1976.3,340.3 1987.1,372.3 1997.9,369 2008.7,356.3 2019.5,363 2030.3,397 2041.1,368 2051.9,344 2062.7,333.7 2073.5,361.3 2084.3,398.7 2095.1,344.7 2105.9,340.7 2116.7,368 2127.5,385 2138.3,319.7 2149.1,343.7 2159.9,350.3 2170.7,331 2181.5,339.7 2192.3,359 2203.1,298.7 2213.9,300.7 2224.7,339.7 2235.5,395.3 2246.3,289 2257.2,349.7 2268,312 2278.8,307.3 2289.6,354 2300.4,361.3 2311.2,291.3 2322,275 2332.8,345.3 2343.6,341.7 2354.4,334.3 2365.2,333.7 2376,337.3 2386.8,391 2397.6,369.7 2408.4,380.7 2419.2,364.7 2430,375.7 2440.8,377.7 2451.6,395.7 2462.4,417.3 2473.2,384.7 2484,353.3 2494.8,385.3 2505.6,361.3 2516.4,369.7 2527.2,392.3 2538,348.7 2548.8,403.3 2559.6,421.7 2570.4,420.3 2581.2,437.3 2592,427.3 2602.8,418.3 2613.6,454.3 2624.4,442.3 2635.2,398 2646,389 2656.8,431.3 2667.6,412.3 2678.4,430.3 2689.2,439.3 2700,439.3 2710.8,399.7 2721.6,377 2732.4,355.7 2743.2,395.3 2754,366.3 2764.8,342.3 2775.6,355.7 2786.4,389.7 2797.2,359.7 2808,329.3 2818.8,352.3 2829.6,349.7 2840.4,392.3 2851.2,309.3 2862,369.7 2872.8,364.7 2883.6,384.7 2894.4,308.3 2905.2,299 2916,257.3 2926.8,245.7 2937.6,255.7 2948.4,193.7 2959.2,201 2970,187.3 2980.9,176.7 2991.7,159.3 3002.5,208 3013.3,196.7 3024.1,190 3034.9,194 3045.7,212.3 3056.5,195.7 3067.3,296.3 3078.1,267 3088.9,271.3 3099.7,269.7 3110.5,234.7 3121.3,268 3132.1,257.3 3142.9,256 3153.7,259.7 3164.5,314 3175.3,284.3 3186.1,316.3" fill="none" stroke="#0000ff" stroke-width="2.08" stroke-linejoin="round"/>
<line x1="154.0" x2="154.0" y1="54.0" y2="591.1" stroke="#4c72b0" stroke-width="2"/>
<line x1="1131.0" x2="1131.0" y1="54.0" y2="591.1" stroke="#4c72b0" stroke-width="2"/>
<line x1="2145.0" x2="2145.0" y1="54.0" y2="591.1" stroke="#4c72b0" stroke-width="2"/>
<line x1="2889.0" x2="2889.0" y1="54.0" y2="591.1" stroke="#4c72b0" stroke-width="2"/>
<line x1="3067.0" x2="3067.0" y1="54.0" y2="591.1" stroke="#4c72b0" stroke-width="2"/>
</g>
<text transform="translate(157 106) scale(1 1.04)" font-size="16.67">DM</text>
<text transform="translate(157 126.8) scale(1 1.04)" font-size="16.67">Set</text>
<text transform="translate(1134 106) scale(1 1.04)" font-size="16.67">PM</text>
<text transform="translate(1134 126.8) scale(1 1.04)" font-size="16.67">Set</text>
<text transform="translate(2148 106) scale(1 1.04)" font-size="16.67">JN</text>
<text transform="translate(2148 126.8) scale(1 1.04)" font-size="16.67">Set</text>
<text transform="translate(2892 106) scale(1 1.04)" font-size="16.67">FN</text>
<text transform="translate(2892 126.8) scale(1 1.04)" font-size="16.67">Set</text>
<text transform="translate(3070 106) scale(1 1.04)" font-size="16.67">EM</text>
<text transform="translate(3070 126.8) scale(1 1.04)" font-size="16.67">Set</text>
<text class="x" transform="translate(100.9 660.6) rotate(-90) scale(1 1.06)">00:00Z</text>
<text class="x" transform="translate(165.8 660.6) rotate(-90) scale(1 1.06)">00:30Z</text>
<text class="x" transform="translate(230.6 660.6) rotate(-90) scale(1 1.06)">01:00Z</text>
<text class="x" transform="translate(295.4 660.6) rotate(-90) scale(1 1.06)">01:30Z</text>
<text class="x" transform="translate(360.2 660.6) rotate(-90) scale(1 1.06)">02:00Z</text>
<text class="x" transform="translate(425 660.6) rotate(-90) scale(1 1.06)">02:30Z</text>
<text class="x" transform="translate(489.8 660.6) rotate(-90) scale(1 1.06)">03:00Z</text>
<text class="x" transform="translate(554.6 660.6) rotate(-90) scale(1 1.06)">03:30Z</text>
<text class="x" transform="translate(619.4 660.6) rotate(-90) scale(1 1.06)">04:00Z</text>
<text class="x" transform="translate(684.2 660.6) rotate(-90) scale(1 1.06)">04:30Z</text>
<text class="x" transform="translate(749 660.6) rotate(-90) scale(1 1.06)">05:00Z</text>
<text class="x" transform="translate(813.8 660.6) rotate(-90) scale(1 1.06)">05:30Z</text>
<text class="x" transform="translate(878.7 660.6) rotate(-90) scale(1 1.06)">06:00Z</text>
<text class="x" transform="translate(943.5 660.6) rotate(-90) scale(1 1.06)">06:30Z</text>
<text class="x" transform="translate(1008.3 660.6) rotate(-90) scale(1 1.06)">07:00Z</text>
<text class="x" transform="translate(1073.1 660.6) rotate(-90) scale(1 1.06)">07:30Z</text>
<text class="x" transform="translate(1137.9 660.6) rotate(-90) scale(1 1.06)">08:00Z</text>
<text class="x" transform="translate(1202.7 660.6) rotate(-90) scale(1 1.06)">08:30Z</text>
<text class="x" transform="translate(1267.5 660.6) rotate(-90) scale(1 1.06)">09:00Z</text>
<text class="x" transform="translate(1332.3 660.6) rotate(-90) scale(1 1.06)">09:30Z</text>
<text class="x" transform="translate(1397.1 660.6) rotate(-90) scale(1 1.06)">10:00Z</text>
<text class="x" transform="translate(1461.9 660.6) rotate(-90) scale(1 1.06)">10:30Z</text>
<text class="x" transform="translate(1526.7 660.6) rotate(-90) scale(1 1.06)">11:00Z</text>
<text class="x" transform="translate(1591.6 660.6) rotate(-90) scale(1 1.06)">11:30Z</text>
<text class="x" transform="translate(1656.4 660.6) rotate(-90) scale(1 1.06)">12:00Z</text>
<text class="x" transform="translate(1721.2 660.6) rotate(-90) scale(1 1.06)">12:30Z</text>
<text class="x" transform="translate(1786 660.6) rotate(-90) scale(1 1.06)">13:00Z</text>
<text class="x" transform="translate(1850.8 660.6) rotate(-90) scale(1 1.06)">13:30Z</text>
<text class="x" transform="translate(1915.6 660.6) rotate(-90) scale(1 1.06)">14:00Z</text>
<text class="x" transform="translate(1980.4 660.6) rotate(-90) scale(1 1.06)">14:30Z</text>
<text class="x" transform="translate(2045.2 660.6) rotate(-90) scale(1 1.06)">15:00Z</text>
<text class="x" transform="translate(2110 660.6) rotate(-90) scale(1 1.06)">15:30Z</text>
<text class="x" transform="translate(2174.8 660.6) rotate(-90) scale(1 1.06)">16:00Z</text>
<text class="x" transform="translate(2239.6 660.6) rotate(-90) scale(1 1.06)">16:30Z</text>
<text class="x" transform="translate(2304.5 660.6) rotate(-90) scale(1 1.06)">17:00Z</text>
<text class="x" transform="translate(2369.3 660.6) rotate(-90) scale(1 1.06)">17:30Z</text>
<text class="x" transform="translate(2434.1 660.6) rotate(-90) scale(1 1.06)">18:00Z</text>
<text class="x" transform="translate(2498.9 660.6) rotate(-90) scale(1 1.06)">18:30Z</text>
<text class="x" transform="translate(2563.7 660.6) rotate(-90) scale(1 1.06)">19:00Z</text>
<text class="x" transform="translate(2628.5 660.6) rotate(-90) scale(1 1.06)">19:30Z</text>
<text class="x" transform="translate(2693.3 660.6) rotate(-90) scale(1 1.06)">20:00Z</text>
<text class="x" transform="translate(2758.1 660.6) rotate(-90) scale(1 1.06)">20:30Z</text>
<text class="x" transform="translate(2822.9 660.6) rotate(-90) scale(1 1.06)">21:00Z</text>
<text class="x" transform="translate(2887.7 660.6) rotate(-90) scale(1 1.06)">21:30Z</text>
<text class="x" transform="translate(2952.5 660.6) rotate(-90) scale(1 1.06)">22:00Z</text>
<text class="x" transform="translate(3017.4 660.6) rotate(-90) scale(1 1.06)">22:30Z</text>
<text class="x" transform="translate(3082.2 660.6) rotate(-90) scale(1 1.06)">23:00Z</text>
<text class="x" transform="translate(3147 660.6) rotate(-90) scale(1 1.06)">23:30Z</text>
<text x="1647.1" y="680.7" text-anchor="middle" font-size="20.83">Time of Day</text>
<text transform="translate(24.5 323.3) rotate(-90)" text-anchor="middle" font-size="20.83">Spot Count</text>
<text transform="translate(1647.1 24.2) scale(1 1.06)" text-anchor="middle" font-size="16.67">Comparison of Spot Counts on 2025.12.31 to Previous 21 Days</text>
<text transform="translate(1647.1 44.7) scale(1 1.06)" text-anchor="middle" font-size="16.67">30m</text>
</svg></body></html>
